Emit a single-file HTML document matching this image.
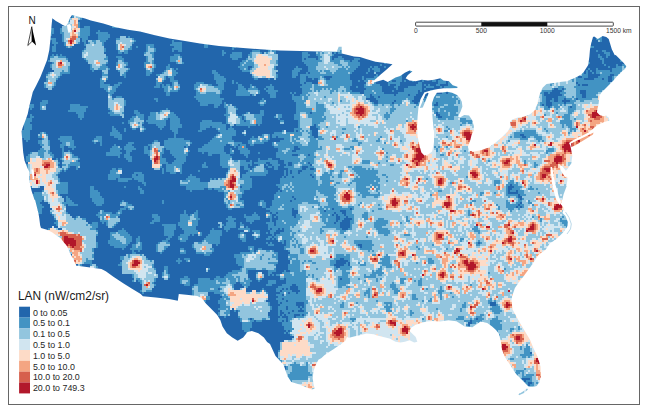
<!DOCTYPE html>
<html><head><meta charset="utf-8"><style>
html,body{margin:0;padding:0;background:#fff;}
svg{display:block;}
text{font-family:"Liberation Sans",Arial,sans-serif;fill:#222;}
.lg{font-size:8.9px;fill:#262626;}
.tt{font-size:11.9px;fill:#1a1a1a;}
.sb{font-size:6.7px;fill:#333;}
</style></head><body>
<svg width="647" height="413" viewBox="0 0 647 413">
<rect x="0" y="0" width="647" height="413" fill="#fff"/>
<defs><filter id="bl" x="0" y="0" width="1" height="1"><feGaussianBlur stdDeviation="0.4"/></filter><clipPath id="us"><polygon points="52.3,18.3 55.9,20.9 59.5,23.1 63.1,25.2 66.0,26.0 68.0,23.0 70.0,18.0 72.0,15.1 77.7,16.5 85.0,18.5 90.9,20.5 103.3,23.5 115.6,27.2 128.0,29.7 140.0,31.6 155.0,35.2 169.5,38.5 185.0,41.0 200.0,43.5 219.0,46.0 240.0,47.8 260.0,49.3 280.0,50.4 300.0,51.0 320.0,51.5 336.7,51.8 338.7,46.8 341.7,46.8 341.7,53.5 348.0,55.0 354.0,56.5 360.0,57.1 366.2,58.9 375.5,61.7 383.2,62.8 392.5,64.3 386.3,69.7 380.1,75.1 373.9,80.5 370.0,83.6 375.5,82.1 383.2,79.8 387.8,82.1 395.5,77.5 400.2,75.9 404.8,72.8 409.5,70.5 412.5,71.3 407.9,75.1 405.6,78.2 409.5,80.5 415.6,81.3 421.8,79.8 428.0,80.5 434.2,79.8 440.4,78.2 443.5,80.5 448.9,81.3 452.7,85.2 457.4,86.7 457.4,88.0 450.0,88.2 443.7,88.2 438.0,89.0 434.0,89.8 429.0,91.0 424.3,92.5 420.5,99.3 418.5,107.0 417.6,116.7 417.0,126.4 417.6,136.0 419.5,145.7 421.4,152.5 424.3,155.4 428.2,154.4 432.1,151.5 434.0,141.8 434.0,132.2 433.0,122.5 432.1,112.8 432.1,103.1 434.0,97.3 436.9,92.8 442.4,92.4 447.3,91.8 452.1,92.7 457.0,95.1 460.0,98.2 461.8,101.8 462.4,106.6 460.6,111.5 458.8,115.1 458.2,117.0 460.0,117.5 464.2,115.1 469.0,115.6 472.1,120.0 473.9,126.0 473.8,130.5 471.6,134.8 470.2,140.6 468.0,146.4 468.7,150.8 474.5,151.5 481.8,150.1 489.0,147.2 496.3,142.1 502.1,137.0 507.9,131.2 510.8,126.1 510.1,121.8 512.2,119.6 518.0,117.4 523.9,116.7 529.7,114.5 534.5,110.5 537.0,105.0 538.5,99.0 540.0,93.6 542.6,87.8 546.5,83.9 554.5,83.0 560.0,82.0 566.8,81.2 575.3,77.8 581.2,74.4 583.7,71.9 588.2,65.0 589.4,56.5 590.0,49.2 591.2,43.2 593.0,37.1 594.2,36.5 597.8,38.9 602.7,35.9 606.3,37.1 608.7,38.9 610.0,43.2 611.8,49.2 614.8,55.3 615.7,55.0 619.7,59.0 623.7,63.0 626.3,66.3 625.0,69.0 622.3,71.0 619.7,73.7 617.0,76.3 613.7,80.3 611.0,83.0 607.7,86.3 605.0,89.0 601.7,92.3 599.7,95.0 599.0,100.3 598.3,105.7 597.6,108.0 596.9,112.3 599.6,115.0 603.6,116.3 606.2,115.6 608.9,118.3 609.5,120.3 607.6,120.9 603.6,122.3 600.9,123.6 596.9,125.6 593.6,128.2 588.9,132.2 583.6,134.9 578.3,137.6 573.0,140.2 569.0,142.9 570.4,145.8 572.3,155.5 571.4,163.3 567.5,169.0 565.5,171.0 562.5,168.5 561.0,170.5 566.5,174.0 567.5,178.8 566.5,186.5 563.6,194.3 561.7,202.0 560.5,204.0 562.8,206.5 565.0,212.0 567.1,217.4 569.3,224.0 562.8,232.7 556.3,239.2 549.7,243.6 545.4,250.0 538.8,254.5 534.5,261.0 530.0,267.5 523.6,276.3 518.7,282.6 514.9,288.0 512.4,295.2 511.5,300.0 512.7,309.7 518.3,320.0 524.0,329.7 529.9,339.4 533.8,349.0 537.6,356.8 540.5,366.5 540.9,376.2 539.6,382.0 536.7,385.9 532.8,386.9 528.9,386.9 526.0,384.0 522.1,380.0 516.3,374.3 512.4,368.4 508.6,362.6 504.7,356.8 501.8,349.0 500.8,341.3 499.0,334.0 496.0,330.0 492.1,326.6 487.3,323.0 480.5,321.5 472.4,327.2 464.4,326.2 456.4,321.2 448.4,320.2 440.0,321.6 432.7,320.9 426.6,321.6 420.4,323.2 415.7,324.7 411.1,327.8 409.6,330.9 412.6,334.0 415.7,337.1 417.3,341.7 414.2,342.5 409.6,340.2 404.9,341.7 400.3,342.5 395.6,341.7 389.5,338.6 383.3,337.1 377.1,335.5 373.8,334.2 366.5,333.4 360.7,334.9 354.9,336.3 349.1,337.8 346.9,337.1 345.4,340.7 341.8,343.6 337.4,346.5 333.1,349.4 328.7,352.3 324.4,355.2 321.5,358.1 318.4,359.7 315.5,365.5 313.5,371.3 312.6,378.0 313.5,383.8 314.5,388.7 311.6,389.6 304.8,386.7 297.1,383.8 291.3,381.9 287.4,376.1 285.5,370.3 283.5,364.5 279.7,360.6 275.5,356.0 272.5,349.5 270.0,344.0 267.1,341.9 263.9,337.5 258.4,333.2 251.9,331.0 247.5,332.1 243.2,337.5 237.7,340.8 232.3,337.5 226.8,333.2 222.5,326.6 220.3,320.1 217.0,314.7 211.6,309.2 206.1,303.8 201.8,298.3 197.4,296.1 188.7,295.0 178.8,294.1 177.8,300.7 169.0,298.9 155.9,297.4 142.9,296.3 140.7,294.1 132.0,288.7 123.2,283.2 113.4,276.7 105.8,271.2 101.4,269.1 77.4,265.8 76.6,266.1 74.9,262.7 72.4,257.6 69.8,252.5 67.3,246.6 63.9,242.4 60.5,238.1 55.4,234.7 52.0,232.2 47.0,229.7 41.0,228.0 40.2,225.4 39.3,218.6 38.5,213.6 36.8,206.8 35.1,200.0 34.5,199.8 31.6,191.0 30.3,185.6 29.4,179.8 29.4,172.0 27.4,168.1 24.5,160.4 23.2,152.6 22.6,144.9 22.0,137.1 21.6,131.3 22.6,127.7 25.2,120.9 27.7,114.1 29.4,105.7 31.1,98.9 32.8,92.1 36.2,85.4 40.4,76.9 43.8,68.5 47.1,60.0 49.3,50.0 50.7,36.7 51.5,26.0"/><polygon points="571.0,143.5 578.0,140.0 585.0,136.8 591.6,133.5 593.5,132.5 593.0,134.5 589.0,137.0 582.5,141.0 576.0,145.0 571.5,147.0"/><polygon points="527.0,388.5 523.0,391.5 518.5,394.2 519.0,395.3 524.0,393.0 528.0,389.5"/><polygon points="419.8,108.0 425.5,94.0 427.8,92.8 428.6,93.6 422.8,107.6"/></clipPath></defs>
<g clip-path="url(#us)"><g filter="url(#bl)">
<rect x="0" y="0" width="647" height="413" fill="#2166ac"/>
<path fill="#4393c3" transform="scale(0.25)" d="M208 160v16h8v8h-8v24h16v-32h8v-8h-8v-16h-24v-8h8v-8h8v-24h-14l-4 48zM200 224v16h-8v8h16v8h-8v16h8v8h8v8h-24v8h-8v32h-8v24h16v8h16v-8h8v-8h8v-24h8v-8h8v-8h8v-8h32v-48h-8v-16h-8v-8h-16v-8h-8v8h-8v-8h-8v8h-8v-8h-8v8zM184 440v-24h8v-16h-24v8h-8v32zM136 432v-16h-16v8h-6l-2 8h8v8h8v-8zM96 496v24h-8v32h8v8h8v8h8v-8h8v-40h8v-24h-8v-8h8v-16h8v-8h-8v-8h-8v16h-18l-9 24zM152 560v16h8v8h8v8h-8v8h-8v8h-32v8h-8v8h-8v24h8v8h-8v8h-1l11 25v30l6 33h40v-8h16v16h-8v8h-32v8h-8l4 16h4v10h2l9 38h5v16h16v-24h8v-8h-8v-8h-8v-8h8v-8h8v8h16v8h8v16h8v8h-8v16h8v8h8v16h8v8h-8v8h8v8h8v8h-16v-8h-8v8h-16v8h-8v1l22 11l34 23l26 33l13 28h9v16h-1l16 32h1v-8h8v8h16v-8h32v16h8v2l8 2v-4h16v-8h-8v-8h-16v-16h8v-48h16v-24h-8v-24h8v-24h-8v-8h8v-24h-24v8h-16v-8h-8v-16h-24v-8h-16v8h-16v-8h-8v-8h-8v-8h-8v-32h8v8h40v-8h-16v-8h-8v-8h-8v-8h-8v-8h-8v24h-8v-16h-8v-8h-8v-8h32v-48h-32v-16h-8v-16h8v-8h8v-8h8v8h8v-8h8v-8h8v-8h24v16h8v-8h8v-24h-8v-8h8v-8h-8v-8h-16v-8h-8v-8h-8v-8h-8v8h-16v-24h16v8h16v8h8v-8h8v-8h-8v-24h-8v-16h-48v8h-8v8h8v8h8v8h-8v16h8v40h-8v8h8v32h-8v-8h-8v-8h8v-8h-8v-16h-8v8h-16v-8h8v-16h-8v-8h-8v-48h-8v-24h-8v-8h-24v8h-8v16h16v8zM248 912v8h-16v-8zM256 104h-8v8h-8v24h8v32h8v16h8v8h24v-8h8v-8h24v-24h8v16h8v16h8v8h-8v8h-8v32h8v8h8v8h8v8h8v24h8v8h8v-8h32v32h-8v40h16v8h8v8h8v72h8v8h-8v8h8v8h48v8h8v-48h8v-24h-8v-8h-8v-8h-24v8h-16v-16h8v-8h8v-16h8v-8h8v-8h8v-8h-16v8h-16v8h-16v-8h-24v-8h8v-8h8v-40h8v-8h-8v-8h-8v-8h8v-32h-8v-8h-8v-8h8v-16h-8v-24h8v-8h8v-8h8v-16h-8v-8h-32v-8h-8v8h-8v8h8v24h-40v-16h8v-40h-24v8h-16v-24h-8v-8h16v-8h8v-2l-48-13v15h-11l-8 19l-6 9l-7-2zM352 160v16h-8v-16zM312 472h8v8h8v-8h8v-24h8v-16h8v-8h-32v-8h-40v24h-8v8h32v8h8zM360 792h8v16h8v8h8v8h24v-8h8v-24h-8v-8h-8v-16h-8v-8h-16v-16h-16zM472 112v-5l-32-8v5h8v8zM424 96h7l-7-2zM512 216v-16h16v-24h8v-8h8v-8h-8v-8h-16v-8h-8v8h-8v-8h-24v8h-16v48h8v16h16v-8h8v8zM464 232h8v16h-8v32h8v8h8v16h16v8h8v-24h8v-8h8v-8h-16v-8h8v-16h-16v-16h-8v-8h-24zM472 560h16v-24h-8v-8h-8v-8h-8v-8h-8v-8h-8v24h-8v16h16v8h16zM400 568v16h8v-40h-24v8h-8v8h-8v8h8v8h8v-8zM424 608v16h48v8h8v-16h8v-8h-8v-8h8v-8h-8v-8h-16v-8h-8v8h-8v8h-8v16zM432 720h32v-8h8v16h40v-8h16v-8h-48v-16h8v-24h-16v8h-8v-8h-16v8h-8v16h-8zM400 872v16h8v8h8v-8h8v16h8v8h24v-8h8v-8h8v-8h8v-16h-8v-8h8v-8h8v-16h16v-8h8v8h24v-16h-8v-8h-16v-8h-16v-8h-8v8h-8v16h16v8h-16v8h-8v8h-8v8h-16v-8h-32v-8h-16v8h-8v8h-8v8h8v8zM432 976h8v8h16v8h32v8h8v-8h8v-8h8v-8h8v-8h8v-24h-8v-8h-8v-8h-8v-8h-8v-8h-8v8h-16v8h-32v32h-8zM424 1088h-2l2 1zM584 224v24h-8v24h8v32h16v-8h8v-8h8v-16h8v-16h-8v-48h8v-16h-8v-16h-32v32h-8v16zM552 184h-8v8h8zM520 472v8h-8v16h8v16h8v8h16v-8h16v16h16v-8h8v-8h-8v-8h-8v-8h8v-40h-16v-8h-8v-8h-16v16h8v8h-16v8zM496 488h-8v8h8zM504 512h-8v16h8zM504 600v16h-8v16h8v8h8v8h16v-24h-8v-16h8v-8h16v-8h-8v-8h-8v-8h8v-8h-24v8h-8v8h-8v16zM576 584v32h16v8h8v16h8v32h8v8h24v-8h8v-16h16v32h16v8h24v-8h16v8h8v-40h8v-8h8v-24h8v-16h8v-8h-8v-16h8v-8h8v-8h-8v-8h-24v-8h-32v-16h8v-24h16v-16h-8v-24h-8v-8h-8v-8h-8v-8h-16v-8h-8v-8h-8v8h-24v8h-40v16h-8v16h-8v8h8v8h32v8h8v8h8v8h8v-8h8v-8h8v-24h8v-8h8v48h8v8h8v24h-24v8h-16v24h-16v-16h-8v-8h-16v8h-8v8h-16v8zM600 584v16h-8v-16zM688 656h-16v-8h-8v-16h-16v-16h8v-24h8v8h16v16h8v8h8v8h8v8h-8v8h-8zM744 592h-8v-8h8zM528 696v16h8v8h16v8h16v8h8v8h8v-16h-8v-32h-8v-8h-32v8zM544 704v-8h8v8zM504 744h-8v8h8zM576 760h-8v-8h-8v-8h-8v16h8v16h16zM640 864h-8v-8h-24v16h8v8h-8v8h-8v8h16v-8h24zM528 976v16h-8v8h8v16h-24v8h-24v16h8v8h-8v8h-8v8h16v32h40v16h8v8h-8v8h16v-8h8v8h8v8h8v24h-8v8h8v8h8v-8h32v-16h8v-8h8v-8h-8v-8h8v-16h8v-16h-8v-24h-8v-32h-24v-8h-8v-8h-8v-8h-32v-8h-8v-8h16v8h8v-8h8v-32h-8v-24h-8v8h-8v24zM696 208v-8h16v8h16v-40h-32v-8h-8v16h-8v8h16v8h-8v16zM728 248v-24h-8v-8h-24v8h-16v24h24v8h32v-8zM632 304v8h-8v32h-8v8h24v-16h8v16h8v16h8v16h16v-16h32v-8h8v-24h-8v-16h-16v-16h8v-8h8v-8h-8v-8h-8v-8h-16v-16h-8v8h-8v16h-8v8h-8v8h-24v8zM648 328h8v-8h8v-16h8v8h8v16h8v16h-8v-8h-16v8h-8v-8h-8zM712 272h-8v8h8zM624 408h8v-16h-16v8h8zM648 672v24h8v-24zM648 800v16h8v-16zM664 952v8h-16v8h-16v8h-8v32h16v8h8v-8h8v-8h8v-8h8v-8h8v-16h-8v-8h8v-8h8v-8h8v-24h8v-24h-56v8h8v40h16v8zM720 1040v-8h-8v8h-8v8h8v8h8v-8h8v-8zM672 1120v-8h8v-16h-8v-32h-16v24h-8v24h8v8zM832 192v-16h-16v16zM864 336h8v8h-24v-8h-32v-8h-32v8h-8v24h8v24h-8v8h8v8h8v8h8v16h32v-8h24v16h16v-8h8v-8h8v-16h8v-8h-16v-16h8v-16h8v-32h8v-16h-8v-8h-16v-8h-8v-8h-8v-8h-16v16h8v24h8zM808 520h16v-8h16v-8h8v8h16v8h8v8h8v8h-16v8h-8v8h-8v8h-8v8h-8v8h-16v8h-8v8h-16v16h16v8h8v-8h16v16h16v-8h32v48h8v8h24v16h-8v24h-32v8h-8v-8h-8v8h-8v-8h-8v16h-40v-16h-16v-8h-16v-8h-8v8h-8v8h-8v8h-24v24h24v16h16v8h8v-8h48v-8h16v8h16v-8h8v8h16v8h24v48h8v16h8v8h16v-8h48v-32h-16v-8h8v-16h8v-16h24v-8h8v-40h-8v-8h64v-8h8v-16h-8v-8h-8v-16h8v-8h16v8h8v8h8v16h16v-16h8v-8h-8v-16h-24v-8h-16v8h-32v-8h-8v16h-16v8h16v8h-16v8h-8v8h-8v-8h-8v-16h8v8h8v-24h-8v8h-16v-8h-56v-16h-8v-8h-16v-8h-8v-24h8v-8h16v8h16v8h8v-8h8v16h8v16h16v8h8v8h8v-16h8v-16h-8v-8h-8v-16h-16v-8h-32v-8h-8v-16h16v-24h-8v-8h-8v-8h8v-8h8v8h48v8h8v-8h24v-8h8v8h8v-8h8v-32h8v-24h-16v16h-40v-8h-16v8h-16v8h-16v-8h-8v-16h8v-8h-8v-8h-16v-8h-24v-8h-8v24h8v24h-8v8h8v32h-16v-8h-40v-8h-40v8h-8v32h-8v8h16zM952 576h8v8h-8zM976 464v16h-8v-16zM984 480v8h-8v-8zM920 496v16h-8v8h-8v-24zM960 712v-48h16v16h16v8h-8v8h-16v16zM960 744h8v8h-8zM824 664v-16h-8v8h-8v16h24v-8zM800 680h-8v8h8zM712 888v16h8v8h8v8h8v16h-16v8h-8v16h8v8h24v-8h8v-16h8v-8h8v8h8v-8h16v8h16v-16h-16v-8h-8v-16h8v-24h8v-8h-8v-32h-8v8h-8v8h-16v8h-8v-8h-8v-16h-8v16h-16v32zM888 896v-8h-16v8h8v8h-8v8h16v-8h8v-8zM824 952h-8v8h-8v8h-32v8h-8v16h8v8h8v16h32v8h24v-8h8v-8h8v-16h-8v-16h16v8h8v-8h8v-32h8v-24h-32v-8h-8v8h-8v16h-8v8h-8zM736 1000v-8h-16v24h24v-16zM736 1032v8h8v8h16v-16zM824 1088h8v-8h8v-8h-16zM856 1120h-16v-8h-48v24h-16v8h-8v41l21 3l16 8l10 12h9v-8h16v-16h-8v-16h24v8h24v8h8v8h-8v8h-8v16h8v16h-8v8h8v8h-8v16h24v8h8v-8h16v-24h8v-8h8v16h8v-8h8v32h8v16h8v32h8v8h8v8h4l4-5v-3h8v-16h8v-24h8v-8h8v8h24v-8h32v-16h-8v-16h8v-8h8v-16h-8v-16h-16v-8h8v-32h-8v-8h-8v-8h-8v8h-8v8h-16v-8h-16v8h-24v-16h8v-8h8v-16h8v-8h-8v-8h-8v-32h80v24h8v-8h8v-8h16v-32h8v-48h-16v-8h-48v-8h-16v8h-8v8h-8v-24h-24v16h8v8h-40v8h-24v16h8v24h8v8h16v8h-8v8h-32v8h-16v8h-8v8h-8v8h-16v-8h-16v8h-8zM944 1136v-8h16v8h8v8h8v8h-16v8h-24v-24zM872 1160v-8h8v8zM1000 1272h8v8h-8zM760 1144v-32h-8v-8h-16v8h-16v24h16v8zM928 185v15h8v-8h8v-5zM896 208v-8h-8v24h8v-8h8v-8zM968 232v-24h-40v8h-8v16h8v8h24v-8zM960 280h8v8h32v8h8v16h8v8h16v-8h40v8h8v-8h16v8h8v-8h8v-16h-8v-8h8v-8h-8v-16h8v-48h-8v-16h8v-2l-48-3v5h8v8h-16v8h-8v-8h-8v-8h-32v8h-8v8h-8v16h-8v8h-16v8h-8v16h-8v8h8zM992 264h16v8h-8v8h-8zM936 336v-16h-8v16zM952 336v-8h-8v8zM944 360v24h56v-8h8v8h16v-8h16v-16h-8v-8h-8v-8h-16v-8h-8v16h-8v8h-8v-8h-8v-8h-8v-8h-16v24zM984 544v-24h-8v8h-8v8h8v8zM928 592h-8v24h16v-16h-8zM976 856v16h8v16h16v8h8v-8h8v-8h24v-16h-8v-8h-8v-8h-8v8h-8v8h-24v-8zM904 904h-8v16h8v8h8v-8h8v-8h24v-24h-8v-8h8v-8h-16v-8h-16v8h-8v8h8v8h-8zM976 928h24v-16h-8v-8h-8v8h-8v-16h-8v-8h-8v24h-8v8h24zM984 968v-32h-8v-8h-16v8h-8v16h8v8h8v8zM1072 368v8h8v16h24v-24h8v-8h-16v-16h-8v-8h-8v8h-16v8h8v8h-8v8zM1064 360v-8h-8v8zM1064 416v-16h-8v-8h-8v8h-8v8h-8v8h8v8h16v-8zM992 560v16h8v8h16v-8h40v-8h16v-8h8v-24h-32v8h-16v8h-16v-8h-8v8h-8v8zM1040 608h-8v8h8zM1072 656h-8v8h8zM1088 664h-16v8h16zM1064 808h-8v-8h-16v8h-8v16h16v8h16zM1064 896h8v24h8v16h8v8h8v8h8v8h8v8h16v8h8v-16h8v24h-8v16h16v8h8v8h-8v24h8v16h-8v24h8v8h-16v-8h-8v8h-8v8h-24v8h16v16h16v-8h8v24h-16v8h-16v8h-8v16h16v8h-16v8h8v8h-8v8h8v16h8v8h-8v40h8v8h-8v16h16v16h8v16h8v8h8v8h8v8h16v8h-8v8h-32v8h-16v32h-8v40h8v8h8v8l3 4l2 4h11v16h-6l9 26l17 24l54 20l27 11l15-4l1-3l-7-42l3-26l8-23l11-22l12-6l12-12l69-46l15-12l5-13l8 2l69-17l28 3l14 5l49 12l25 13l19 3l19-3l18-6l19 9l14-3l1-2v-2l-7-19l-23-24l5-10l17-11l43-12l24-3l29 3l34-6l31 4l32 20l32 4l34-23l25 6l34 27l11 15l7 29l4 31l12 31l47 71l51 51l17 1l17-5l13-17l6-24l-2-40l-12-39l-15-31l-16-39l-46-78l-22-40l-5-38l4-18l9-29l61-81l35-52l26-18l17-25l26-18l26-26l27-36v-2l-9-26l-17-44l-8-9l4-7l7-31l12-31l4-32l-4-21l-20-13l2-2l9 8h4l8-9l17-24l3-32l-6-31l20-8l68-42l1-2l2-10l-2-2h-2l-90 44l-2 3l-1-1l14-9l63-33l32-26l27-13l24-9l1-2l-3-9l-11-12l-3-1l-10 3l-14-5l-9-9l5-25l6-42l7-10l48-48l13-16l21-21l11-8l6-12v-2h-4v-5l-2-3h-14v8h-16v-8h-8v16h-16v16h-8v-8h-48v-8h-8v24h16v8h-8v8h-16v8h-40v-8h16v-32h-8v16h-8v-16l-4 6l-9 9l-23 13l-34 14l-82 11l-17 17l-10 23l-12 46l-10 21l-18 15l-22 9l-24 2l-24 10l-10 10l3 18l-11 19l-23 23l-23 20l-29 20l-28 11l-28 6l-20-3l-3-14l9-22l5-24l9-17l1-20l-8-24l-13-19l-22-3l-16 10l-3-1l8-19l8-20l-3-21l-7-15l-14-13l-19-10h-10v-2l-10-2l-6 1v3h-16v8h-27l-8 12l-8 24v39l8 78v38l-8 37l-14 11l-13 3l-10-10l-7-26l-7-38l-3-38l3-39l3-33l3 1l12-1l2-2l23-56h-5v8h-8v8h-8v8h-7l-12 28l8-28h-5v8h-8v8h-16v-8h-8v-8h8v-16h8v-8h8v-16h8v8h8v-40h-16v8h-8v8h-32v8h-16v16h-24v8h-8v8h-8v-8h-40v-8h-8v-24h-8v-8h-16v-8l-10-1l2-1v-6h7l1-1v-7h8v-16h-8v8h-8v8h-32v8h-8v8h8v8h-8v16h8v8h-8v16h-16v-8h-32v-8h-8v-16h8v-24h-8v-24h8v-8h8v-8h8v-8h8v-8h8v-16h-8v-8h8v-8h-24v8h-8v8h-8v-8h-24v-8h-8v-8h-16v8h-16v8h-8v-16h8v-8h8v-8h8v8h16v-16h2v-13l-1-2l-2-1l-14 1l-8 19l-57-1v5h-16v-5l-8-1v22h8v16h-8v-8h-32v-8h8v-8h-8v-8h-24v40h8v8h8v8h8v24h-8v8h-24v40h8v8h-8v8h8v24h-8v8h-24v-8h-8v24h8v8h8v48h-8v24h16v32h-16v16h-32v-8h-16v8h-32v8h-8v16h16v-8h8v8h24v8h-16v8h-32v16h8v8h16v16h-8v24h16v8h16v16h8v8h-8v8h16v32h-8v8h-8v-8h-8v8h-8v24h-16v8h8v8h8v8h-8v8h-8v8h-8v24h-8v24h-8v8h-16v8h16v8h-16v24h16v16h-16zM1080 912h8v8h-8zM1096 944v-16h8v-8h8v-8h8v8h8v-8h8v16h-16v8h-16v8zM1120 1160h8v8h-8zM1128 1152h8v8h-8zM1120 1208h8v8h-8zM1120 1264v-24h8v8h8v8h8v8h8v24h-8v-16h-16v-8zM1128 1280h8v8h-8zM1152 1320h8v8h-8zM1792 368v8h-8v-8zM1328 216v-8h8v8zM1240 288v8h-8v-8zM1128 760v8h-8v-8zM1088 848v8h-8v-8zM1104 856v8h8v16h-8v24h-8v-16h-8v-32zM1104 848h8v8h-8zM1360 912v-24h8v-8h8v-8h8v-8h8v8h16v8h-8v32h-8v8h-24v-8zM1376 864v-8h-8v-8h-8v-8h24v24zM1408 840h-8v-8h8zM1328 832h8v8h-8zM1192 840v16h-8v16h-8v-8h-8v-32h8v8zM1296 848v-8h8v8zM1336 848h8v8h-8zM1352 856v8h8v16h-8v8h-8v-32zM1344 896h-8v-8h8zM1336 864h-8v-8h8zM1744 408h8v16h-16v-8h8zM1576 408v8h-8v-8zM1576 400h8v8h-8zM1480 408v-8h-16v-8h16v-16h8v8h8v8h8v8h8v16h-16v-8zM1216 240v-8h8v8zM1216 336v-8h8v8zM1224 328v-24h8v8h16v8h8v-8h16v24h-24v-8zM1296 312v-8h32v8h-8v8h-16v-8zM1744 464v-16h8v8h8v8h8v8h-16v-8zM1240 448h8v8h-8zM1248 544v-24h-8v-16h16v-8h8v16h8v40h-16v-8zM1192 528h-8v-8h8zM1192 592h8v8h-16v8h-16v-8h8v-16h16zM1192 624h-24v-8h24zM1176 712h-8v-8h8zM1256 712h-8v-8h8zM1240 704v-8h8v8zM1192 680h16v8h-8v8h-8zM1208 680v-16h24v8h-8v8zM1248 664h-8v-8h8zM1232 656v-8h8v8zM1152 664v-16h16v16zM1160 680h8v16h-8zM1168 808h-8v-8h8zM1184 800h-8v-8h8zM1168 792v-8h8v8zM1136 1184h-8v-8h8zM1160 1176h-8v-8h8zM1168 1160h-8v-16h8v-8h16v8h8v16h8v8h-8v8h-8v-8h-16zM1144 1152h8v8h-8zM1184 1208h32v24h-8v8h8v8h-24v-8h8v-8h-8v-8h-8zM1152 1200v8h-8v-8zM1136 1192v8h-8v-8zM1200 1256v8h-16v8h-8v-16zM1160 1248v8h-8v-8zM1176 1248h-8v-8h8zM1144 1240v-16h8v16zM1216 1264h-8v-8h8zM1240 624h-8v-8h8zM1256 680h-16v-8h16zM1448 976v16h-8v-8h-8v-8zM1336 1056h8v-16h16v-8h16v8h16v8h-8v8h-8v8h-16v8h-16v-8h-8zM1400 1048v16h-8v-16zM1368 1120h-8v-8h8zM1880 1288v-8h8v16h-8v8h-8v-16zM1632 384v-8h8v8zM1512 392v-8h8v8zM2184 424v-40h-8v-16h16v8h8v-8h8v-8h8v-8h16v8h16v8h-8v8h8v8h-16v24h-16v-16h-8v8h-8v8h8v16h-8v8h-8v-8zM2248 352h8v8h-8zM2176 424h-8v-8h8zM2288 432h-8v-8h8zM2080 536h16v8h8v8h-16v-8h-8zM2064 832v-8h8v8zM2072 816h8v8h-8zM2080 808h8v8h-8zM2088 824v8h-8v-8zM2072 792v-16h8v8h8v16h-8v-8zM2032 776v-32h8v-8h8v8h8v8h-8v8h-8v8h24v-8h8v16zM1912 968h8v8h-8zM1984 1208v16h-24v-16zM1904 1272h8v8h-8zM2120 1408h8v8h-8zM2128 1536h-8v8h-8v-16h16zM2088 1512h32v8h-16v8h-8v-8h-8zM2328 344v-8h24v8zM2312 344v-8h8v8zM2304 336v-8h8v8zM2440 296h16v8h-8v24h-16v-24h8zM2408 320v-8h8v8zM2312 312v-8h16v8zM2256 392h8v8h16v8h-16v8h-8v-8h-8v-8h8zM2304 392h8v8h-8zM2344 360v32h-16v-16h-8v-16zM2344 272v-4l-3 4zM2360 256v-8h-8v-5l-2 13zM2376 192v-8h-16v-4l-2 12zM1568 256h5l-2-2h-3zM1824 352h8v-7l-19-7l-13-13v3h-8v16h-16v8h8v4l40-1zM1016 944v16h8v-8h16v-32h-32v8h8v8h-8v8zM1072 928h-8v8h8zM1064 960h16v-8h8v-8h-16v8h-8zM1072 968h-8v8h8zM1072 984h24v-8h-8v-8h-8v8h-8zM1040 1120h8v-8h8v-16h-8v-8h-24v32h8v8h8zM1104 1120h-32v16h-8v8h24v-8h16zM1184 304h8v-16h8v-8h8v-8h-16v-8h-8v8h-8v8h-8v32h16zM1168 368h-8v8h8zM1184 368h-8v8h8zM1128 456h-24v8h-8v8h16v8h8v-8h8zM1136 496v-16h-16v16zM1144 680h-8v24h8zM1104 872v-8h-8v8zM1096 952h-8v8h8zM1096 1096h-8v8h8zM1208 1224h-8v8h8zM1136 1256h-8v8h8zM1144 1328h-8v8h8zM1488 264h-8v8h8zM1472 272v16h8v-16zM1512 272v-8h-16v8h-8v8h8v16h8v-8h16v-16zM1472 288h-8v8h8zM1448 320h8v-16h-8zM1440 320h-8v8h8zM1432 344h-8v8h8zM1544 250l-8-2v8h8zM1528 256h-8v8h8zM1640 280v8h12l1-1v-3l-2-2zM1544 264h-8v8h8zM1552 272v5l6-5zM1560 320v8h-8v16h8v-8h24v8h-8v8h8v8h8v-16h8v-16h8v-32l-16 8l-11 3zM1568 328v-8h16v8zM1536 288v3l4-3zM1528 298l2-2h-2zM1520 304v1l1-1zM1696 320h-8v8h8zM1624 320h-8v8h8zM1656 321l-8-1v8h8zM1704 336h-8v8h8zM1704 352h-8v8h8zM1576 360h-8v8h8zM1704 371l-4 3l-1 2h5zM1704 368h-8v8h2l1-3l5-2zM1760 344v-8h24v-16l-9-1l-9-7h-6v8h-8v16h-8v8zM1744 320h-16v8h16zM1704 352h32v-8h-16v-8h-8v8h-8zM1768 344h-8v8h8zM1768 367h-8v1h8zM1728 360h-8v6l8-2zM2368 168v-16l-5 16zM2392 160v8h16v-24h-4l-13 8l-7-5v13zM2432 232v-8h8v-16h-16v-8h-16v8h8v8h8v16zM2392 200h-8v8h8zM2416 256v-24h-8v-8h-8v-8h-8v16h8v8h8v16zM2488 241l-8-1v8h8zM2424 256h-8v8h8zM2440 264h-8v8h8zM2360 272h-8v8h8zM2368 288v-8h-8v8zM2376 288h-8v8h8zM2072 1574l-1 3l2 6l2 1h2l21-9l16-15l1-3l-5-6h-3l-17 12z"/>
<path fill="#92c5de" transform="scale(0.25)" d="M248 104v24h8v40h8v16h8v8h8v-8h16v-8h16v-8h8v-16h-8v-8h8v-32h-8v-32h8v-8h8v-5l-32-8v13h-16v16h-10l-7 12l-7-2v6zM344 200h-8v8h-8v24h16v8h8v16h16v16h8v8h16v-8h8v-8h8v-8h16v-8h8v-8h-16v-8h8v-16h-8v-32h-8v-16h-8v-8h-16v16h-8v-8h-8v-8h-16v8h8v8h-16zM208 280h8v8h-16v8h-8v8h-8v8h8v16h-16v8h8v16h8v8h16v-16h8v-16h8v-16h8v-8h8v-16h8v-8h8v8h16v-24h8v-16h-8v-8h-8v-8h-32v-8h-16v8h-16v16h16v8h-8zM184 440v-16h-16v16zM176 584h-8v8h8v8h8v8h-8v24h-16v-8h-8v-16h-24v8h-8v32h-8v36l2 5v15h6v16h-6l2 8h4v16h8v8h32v-8h16v24h-8v16h8v24h16v8h8v16h8v8h-8v8h8v8h8v16h8v8h8v32h-16v-8h-8v8h-8v8h-8v4l14 8l34 23l26 33l9 20h5v8h8v18l15 30h1v-8h8v8h8v-8h16v-8h8v-16h8v8h24v-8h-8v-16h8v-8h-8v-16h16v-56h8v-8h-8v-8h-24v-8h8v-8h-8v-8h-8v-8h-8v-8h-16v-8h-8v-8h-8v8h-8v8h-8v-8h-8v-8h-8v-8h-16v-32h-8v-8h-8v-8h8v-16h-8v-8h-16v-24h-8v-24h16v-8h-8v-24h-8v-8h8v-8h8v-8h8v-8h-16v-32h-24v-16h-8v-8h-8v-16h8v-16h-8v-40h-8v-8h-8v-8h-8v24h8v8h-8v16h8zM248 912v8h-16v-8zM352 904h-8v-8h8zM160 536h-8v8h8zM280 568h-16v16h16zM256 648h-8v8h16v8h-16v8h8v8h8v-8h8v-16h8v-8h24v-8h8v-8h-24v-16h-8v-8h-24v24h-8v8h8zM320 664h-8v8h8zM368 1056v8h-8v8h8v2l8 2v-4h8v-16zM480 200v8h16v-8h16v-8h8v-8h8v-16h8v-8h-8v-8h-24v-8h-24v16h-16v16h8v24zM584 216h-8v8h16v24h8v8h-16v24h16v8h8v-16h8v-16h-8v-16h8v-8h-8v-16h-8v-8h16v-16h-16v-8h-8v24h-8zM480 280v24h8v-8h8v-8h8v-8h8v-8h-16v-8h8v-8h-8v-8h-8v-8h-16v24h-8v16zM432 296v-24h-8v8h-16v8h8v8zM424 312h8v-8h-24v16h8v8h8zM432 344v24h8v-8h8v-16zM432 376v56h8v8h8v8h8v8h24v8h8v8h8v-16h-8v-8h8v-56h-40v8h-8v-16h-8v-8zM528 504v8h24v-8h8v24h8v-8h8v-8h-8v-24h8v-8h-16v-8h-8v-8h-8v8h-8v16h-16v16zM552 496v-8h8v8zM392 560h-16v8h16zM480 584h-8v8h8zM608 640v32h8v8h24v-16h8v-8h-8v-48h8v-16h8v-8h-16v-16h-24v8h-8v24h-8v40zM632 608v-8h8v8zM464 696h24v-16h-16v8h-8zM480 824h24v-16h-16v8h-8zM512 832h8v8h8v-8h8v-8h-24zM400 856h8v-16h-8zM480 848h-8v8h8zM448 904h8v-8h8v-8h16v-16h-8v-8h-8v8h-24v-16h-16v8h-8v16h16v32h16zM408 864h-8v16h8zM464 960h16v8h8v8h16v-24h-8v-8h-16v-8h-8v-8h-8v8h-16v8h8v8h8zM552 976h-8v16h8v-8h8v-16h-8zM512 1032v-16h-8v8h-8v16h-8v56h48v32h8v-16h16v8h8v48h16v-8h24v-8h8v-16h-8v-8h8v-16h16v-16h-8v-16h-8v-8h-8v-16h8v-16h-8v8h-8v-8h-16v-16h-8v-8h-8v8h-8v-8h-40v16zM728 256v-24h-8v-8h-8v16h-8v8h8v8zM640 304h-8v8h-8v8h8v8h16v-8h8v-16h32v-32h-8v8h-16v8h-8v8h-16zM696 360h16v-8h8v-8h-8v-16h-16zM824 368h40v8h16v-16h-8v-8h-16v-8h-24v-8h-32v8h-8v8h-8v8h8v8h8v8h24zM680 352v-8h-8v24h8v-8h8v-8zM912 416h-8v8h8zM912 424v32h8v8h-8v32h8v8h16v-8h24v-24h-8v-8h-8v-32h-8v-8h-8v-8h-8v8zM624 480h32v-8h16v-16h8v-16h-32v8h-8v8h-8v-8h-8zM880 512h-8v8h8zM888 552v-16h-16v8h-8v8zM888 560h-8v8h8zM760 584v-16h-16v8h8v8zM928 584h8v-16h-24v8h16zM744 616v-8h8v-16h-16v24zM912 640v24h8v16h-8v16h-8v16h-16v8h-8v-8h-8v8h-32v8h-8v24h48v-8h24v16h-8v8h16v8h-8v16h8v8h8v16h-8v16h48v-8h16v-8h-8v-8h-16v-32h16v-8h-8v-32h16v-16h-16v-80h-8v8h-16v-8h-8v-8h-8v8zM912 760h8v8h-8zM944 824v-8h16v8zM704 664h-8v24h24v-16h-16zM760 720h-8v8h8zM720 720v16h32v-8h-24v-8zM896 752h-8v8h8zM904 800v-8h-8v16h8v8h8v-16zM760 880h-8v24h16v-24h16v-8h-8v-16h-8v8h-8zM880 896v16h8v-24h-16v8zM792 928v16h8v-16zM728 952h-8v8h8zM784 992v16h32v8h8v-8h24v-8h-8v-8h8v-16h-16v-8h-8v-8h-8v8h-8v8h-16v-8h-16v24zM632 976v32h16v-8h8v-16h24v-8h-16v-8h-24v8zM736 1000h-16v8h16zM760 1040h-8v8h8zM832 1072h-8v16h8zM672 1120v-24h-8v-16h-8v24h-8v8h8v8zM888 1152v8h-8v8h16v8h8v8h8v8h8v8h-16v24h16v16h8v-8h8v8h24v8h-8v16h8v8h8v16h32v-8h-8v-8h24v8h32v-8h16v8h16v-8h-8v-24h8v-24h-8v-16h-8v-8h8v-24h-8v-8h-8v-8h-8v8h-24v-8h-16v8h-24v-24h-8v8h-16v8h-24v-8h-8v-16h-8v-16h-8v-8h-8v16h-16v8h16v8h-24v8zM864 1120v16h16v-8h-8v-8zM728 1136h16v-8h8v-8h-24zM816 1208v-8h8v-16h8v-16h-40v-24h-16v8h-8v8h8v24h-8v1l21 3l16 8l10 12zM856 1152h-16v8h16zM896 1176h-8v8h8zM904 1192h-8v8h8zM912 1232h-8v8h8zM904 1240h-24v24h24v-8h-8v-8h8zM920 1256h-8v8h8zM1008 208v24h-8v-8h-8v16h16v8h8v24h-8v8h-8v16h8v8h8v8h80v8h8v-32h8v-8h-16v-16h16v-8h-8v-16h8v-24h-16v-8h-8v-8h-8v8h-8v8h-8v-8h-8v8h-16v-8zM992 240h-8v8h8zM984 248h-8v8h8zM976 256h-8v8h8zM984 272h-8v8h8zM1016 344h-8v8h8zM1032 360h-40v8h8v8h16v8h8v-8h8zM1064 400h-8v8h8zM1056 408h-16v8h16zM1024 496v-24h-8v-16h-16v-8h-8v8h-16v8h8v16h16v16zM968 536h16v-16h-8v8h-8zM1056 560v-8h-16v-8h-8v16h8v8h8v-8zM1064 560h8v-24h-16v16h8zM1016 568h8v-8h-16v16h8zM976 584h-8v8h8zM936 600h-8v8h8zM1056 688v-32h-16v8h-16v8h-8v16zM1008 680h-8v8h8zM1040 824h8v-16h-8zM976 904h-16v8h16zM992 920h-16v8h16zM1040 944v-8h-16v-8h-8v8h-8v8h16v8h8v-8zM976 936h-16v16h16zM1008 992h-8v8h8zM976 1016h-8v16h8v40h-8v16h-16v8h-24v8h8v8h8v-8h16v24h16v-16h8v8h8v-24h-8v-24h40v8h24v-8h16v8h32v-8h8v-8h-8v-8h-24v-8h40v-8h-8v-8h-16v-16h8v-8h-8v-8h-8v8h-16v-8h-32v8h-8v8h-8v-8h-8v8h-24v8h-8zM1080 1032v8h-8v-8zM1040 1040v-16h8v16zM1048 1016h8v8h-8zM1056 1112v-16h-8v-8h-16v8h-8v16h8v8h8v-8zM944 1128h8v-16h-8zM984 1128h-8v8h8zM1232 376h-8v8h8zM1216 400v-16h-8v16zM1208 520h8v8h-8v16h-16v8h8v8h-16v8h16v8h8v8h24v-16h8v-16h-8v-8h8v-8h-8v-8h8v-24h8v-32h-16v-16h-8v-8h-24v64h8zM1224 528v-8h8v8zM1112 472v-16h-8v16zM1136 488h-16v8h16zM1208 520h-8v8h8zM1136 520v8h-8v8h16v-16zM1160 568h8v-24h8v-8h-16zM1184 552h-8v8h8zM1176 568h-8v8h8zM1112 576h-8v-8h-8v16h16zM1152 600h8v-8h-16v8h-16v8h8v8h8v-8h8zM1208 648v-8h8v-8h8v-8h-8v-8h-16v8h-8v8h8v16zM1208 656h-8v-8h-8v8h-16v16h24v-8h8zM1224 648h-8v8h8zM1160 728v16h8v-16zM1136 736v8h-8v16h8v-8h8v-8h8v-8zM1160 744h-8v8h8zM1168 752h8v-8h-8zM1168 752h-8v8h8zM1152 760h-8v8h8zM1176 760h-8v8h8zM1120 784h-8v8h8zM1272 816h-40v-8h-24v8h-16v40h8v8h8v8h-8v8h-8v16h-8v8h-8v8h-8v-8h-8v16h8v8h16v8h-8v16h8v8h-8v8h-8v-8h-8v32h-16v8h16v16h32v24h8v48h8v-8h16v24h8v8h-8v88h8v16h-8v32h8v8h-8v8h-8v8h-48v8h-8v8h8v24h8v8h-8v8h-8v8h8v8h8v8h-8v8h-32v8h-16v40h-8v24h8v8h8v16l3 4l2 4h19v16h-8v18l2 6h6v-8h8v-8h8v-24h-8v-8h16v-8h8v8h16v8h24v-16h8v40h8v8h8v8h-16v16h-64v8h-6l1 2l55 20l27 11l15-4l1-3l-7-42l3-26l8-23l11-22l12-6l12-12l69-46l15-12l5-13l8 2l69-17l28 3l14 5l49 12l25 13l19 3l19-3l18-6l19 9l14-3l1-2v-2l-7-19l-23-24l5-10l17-11l43-12l24-3l29 3l34-6l31 4l31 20l8 1v-13h8v-8h-16v-8h24v-8h8v8h8v-8h8v-8h16v-8h16v8h-8v8h8v8h-8v8h-8v3l3-2l25 6l12 9v-24h8v-8h16v-8h8v16h16v8h-8v8h8v24h-16v8h-6l6 8h8v8h-5l5 22l4 31l12 32l39 59h9v-8h32v24h8v-8h32v8h-8v24h8v16h-29l8 7h17l16-4l13-18l6-24l-2-40l-12-39l-15-31l-16-39l-46-78l-22-40l-5-38l4-18l9-29l66-89v-8h6l24-36l26-18l17-25l26-18l26-26l16-21h-5v-8h-8v-8h-8v-8h-8v-16h8v8h24v28l8-11v-2l-9-26l-8-21h-7v-8h4l-6-15l-8-9l4-7l7-31l12-31l4-32l-4-21l-20-13l2-2l9 8h4l8-9l17-24l3-32l-6-31l20-8l68-42l1-2l2-10l-2-2h-2l-90 44l-2 3l-1-1l14-9l63-33l32-26l27-13l24-8v-4h1l-3-8l-11-12l-3-1l-10 3l-14-5l-9-9l5-25l6-42l7-10l12-11h-13v8h-16v8h-8v8h8v8h-24v8h-32v8h-16v-8h-16v8h-8v8h8v24h-8v8h-8v8h-8v24h8v32h16v16h-8v-8h-8v8h-8v-16h-8v-8h-8v-8h-8v16h-8v-16h-8v-16h16v-8h-8v-8h8v-8h16v-32h16v-8h-24v8h-8v-8h-8v8h-8v8h-8v8h-8v-8h-8v-8h-8v8h-8v8h-24v-16h-16v-16h8v-32h-8v-8h8v-8h40v-8h24v-8h24v8h8v8h-8v8h8v8h-8v8h8v8h24v-8h8v8h8v-40h-8v-8h8v-32h-8v16h-8v-8h-8v-4l-14 6l-50 7v7h-8v8h-8v-13l-15 2l-18 17l-10 23l-12 46l-10 21l-18 15l-22 9l-24 2l-24 10l-10 10l3 18l-11 19l-37 35v2h-2l-36 26l-28 11l-28 6l-20-3l-3-14l9-22l5-24l9-17l1-19l-5-16h-6v8h-16v-8h-8v8h-16v-8h-8v-16h24v8h28l-15-21l-21-2l-16 10l-3-1l8-19l8-20l-3-21l-7-15l-11-11v4h-8v8h8v8h-8v16h-8v8h16v24h-8v8h8v8h-16v16h-24v-8h-8v8h-32v-8h-8v-16h-8v-16h-8v-8h8v-8h-8v-21l-3 9v39l8 78v38l-8 37l-14 11l-13 3l-10-10l-7-26l-7-38l-3-38l6-72l3 1l12-1l2-2l10-24h-8v-8h-7l-1 8h-2l-6 16h-1l-2 4l1-4h-14v-8h-24v-16h-8v-8h-8v8h-16v16h-8v8h-8v-8h-16v16h8v8h-8v8h-8v8h-8v-24h8v-8h-8v-8h-24v8h-8v-8h-16v8h-16v-8h-8v-8h-8v-8h-16v-16h-8v-8h-56v-8h-16v-16h-8v-8h-16v8h-8v16h-8v-8h-8v8h-8v8h-8v-16h-8v-8h-8v8h-8v-8h-8v8h-8v8h-8v-8h-8v8h-8v-32h-8v16h-8v8h8v8h-16v8h8v8h-8v16h-8v8h-8v8h8v16h24v16h16v-40h8v8h24v16h8v16h-8v16h8v16h-8v8h-16v8h-8v8h8v16h-8v24h16v8h8v8h-24v32h8v-8h8v16h-24v8h-8v16h8v8h-8v24h-8v8h8v8h8v16h-8v8h8v24h8v24h8v-8h8v-16h-8v-16h8v-8h8v-8h16v8h8v-16h16v8h-8v16h-8v16h16v8h-16v16h16v8h8v24h-8v8h8v8h-8v8h8v8h8v16h16v8h24v-8h24v16h-8v16h8v40h-8v24h-24v8h-8v8h-16v-16h-16v-8h-56v-8h16v-8h-8v-8h-8v-16h-8v-8h8v-8h-8v-16h-8v-8h8v-8h-8zM1192 960v16h-8v-16zM1208 976v8h-8v8h-8v-16zM1216 992v24h-16v-24zM1184 976v16h-8v-8h-8v-8zM1232 1096h8v8h-8zM1824 1280v-8h8v-8h24v16zM2096 1472h8v8h-8zM2248 864h8v8h-8zM2280 536h-8v-8h8zM1848 504h-8v-8h8zM1840 400v16h-8v-16zM1664 432h-8v-8h8zM1560 456v16h-8v8h-8v-8h-8v-16h8v-8h8v8zM1336 704v8h-8v-8zM1336 736h8v8h-8zM1344 728h16v8h-16zM1288 920h8v8h-8v8h-8v-24h8zM1384 944v8h-8v-8zM1472 944v8h-8v-8zM1512 936v-16h-8v-8h-8v-24h8v-8h8v-8h24v8h16v16h-8v8h-16v8h24v8h8v16h-8v8h-16v-8zM1624 864h8v16h8v8h-16zM1472 880h-16v-8h-8v-16h8v-8h16zM1496 840v8h-8v-8zM1528 832v8h-16v-8zM1248 832v-8h8v8zM1200 928h-8v-8h8zM1640 1264v-24h8v8h8v8h-8v8zM1544 1248v-16h-8v-8h8v-8h-8v-8h32v24h-8v8h8v8zM1360 1232v-16h8v-8h8v24zM1432 1208v8h-8v-8zM1512 1200v8h-8v-8zM1648 1200v-24h16v16h8v8zM1472 1192v-16h-8v8h-8v-16h8v-8h8v-8h8v40zM1384 1144h16v8h-16zM1368 1144v8h-16v-48h16v-24h-8v-8h-8v8h-8v8h-8v-24h-16v-24h16v-8h8v-16h32v8h8v-8h16v48h8v8h-8v8h-16v8h16v8h-8v16h8v24h-16v8zM1248 1056v-8h16v8zM1232 1048v-8h16v8zM1224 1040v8h-8v-8zM1216 1056h-8v-8h8zM1264 1080v-8h8v8zM1256 1096v16h-8v-16zM1272 1112v8h-8v-8zM1376 528v8h-8v-8zM1792 520v8h-16v-8zM1792 512h8v8h-8zM1784 512v-8h8v8zM1368 512h16v8h-16zM1440 504v8h-8v-8zM1624 480h8v8h-8zM1296 392v-8h8v8zM1328 416v-8h8v8zM1360 408v-8h8v8zM1312 512h-8v-8h8zM1368 360h8v8h-8zM1552 624v8h-8v-8zM1776 616v8h-16v-8zM1544 608h8v8h-8zM1744 592h8v16h-8zM1736 592v-8h8v8zM1752 584h8v8h-8zM1528 592h8v8h-8zM1432 584v-16h16v8h-8v8zM1408 568v-8h8v-8h8v8h8v8zM1544 568v8h-8v-8zM1608 560v8h-8v-8zM1504 568v-8h8v-8h8v16zM1520 544h8v8h-8zM1344 552v-8h8v8zM1376 592h24v8h-24zM1400 584h16v16h-8v-8h-8zM1448 776h-8v-8h-16v-40h-16v-8h8v-8h8v-8h8v-8h-8v-8h-8v-8h-8v-8h8v-8h32v8h16v8h8v-8h8v8h8v-8h8v8h16v16h-8v8h8v8h8v16h-8v8h8v24h-8v8h8v16h-8v8h-16v-8h-32v8h-16zM1440 784h-8v-8h8zM1408 736h-8v-8h8zM1400 744h-8v-8h8zM1392 672v-8h16v8zM1576 656v8h-16v-8zM1512 648h8v8h-8zM1552 640v8h-8v-8zM1480 656h-32v-16h32zM1368 688v24h-16v-16h8v-16h16v8zM1440 1000v-8h-8v-8h-8v-8h-8v-16h72v16h8v8h-8v16h-8v8h-8v-8zM1496 1000v8h-8v-8zM1424 1272v8h-8v8h-8v-8h-8v-8zM1440 816v8h-8v-8zM1440 808h8v8h-8zM1456 1056v-8h8v16h-24v-8zM1432 1056v-8h8v8zM1496 1080v8h8v-8h8v-8h8v-8h8v24h8v8h-8v8h-16v-8h-8v16h-48v-16h8v8h16v-8h8v-16zM1528 1056h-16v-8h16v-8h-8v-8h16v-8h8v-8h8v8h8v32h8v16h-24v-8h-16zM1512 1112v16h-8v-16zM1440 1112v8h-8v-8zM1464 1120v8h-8v-8zM1552 704v8h-8v-8zM1528 704v-8h16v8zM1552 720v8h-8v-8zM1520 816v8h-8v-8zM1608 888v8h-8v-8zM1640 936v8h-24v-8zM2056 1440h-16v-8h16zM2080 1416h16v-24h8v-16h8v8h8v24h8v16h-8v8h-8v-8h-8v8h-16v-8h-8zM2080 1384h8v16h-8zM2000 1256h-24v-8h-8v-8h-8v-8h8v-8h-8v-8h-8v-16h8v-8h8v16h8v-8h8v16h8v8h8v16h8v8h-8zM1816 1184v8h-8v-8zM1776 1168h-8v32h-8v-24h-8v-16h8v-16h8v16h8zM1888 1144h-8v-8h8zM1960 1088v8h-8v-8zM2024 1072v8h-8v-8zM1712 1056v-24h16v8h8v16zM1792 992v8h-8v-8zM1672 992h8v8h-8zM1664 992v-8h8v8zM1736 984h-8v-8h8zM1912 968v-8h8v8h8v8h-8v8h-16v-16zM1840 968v-16h16v8h-8v8zM1896 928v-8h-8v-8h8v-8h16v16h8v16h-8v-8zM2160 872h8v16h-8zM2136 864v8h-8v-8zM1872 864v-24h8v24zM2032 832h-8v-32h8v8h8v8h24v-8h8v-16h-8v-8h-24v8h-8v-8h-8v-48h8v-8h8v-8h16v16h8v-8h8v16h16v8h-8v8h16v16h8v8h-16v8h8v8h-8v16h8v16h-16v8h-8v-8h-16v8h-8v8h-8v-8h-8zM1872 704v8h-8v-8zM2136 672v-24h8v8h8v8h-8v8zM2096 640h8v16h-8zM2184 600h8v-8h24v16h-24v8h-8zM1792 584v8h-8v-8zM2176 560v8h-8v-8zM2160 560v8h-8v-8h-8v-8h-8v-8h-16v8h-8v8h-32v-8h-24v-24h24v-8h8v8h8v-8h48v16h8v8h16v16zM2040 560v8h-8v-8zM2184 520h-8v-8h8zM2192 520v8h-8v-8zM2184 456v8h-8v-8zM2224 456v-8h8v8zM1504 1016v8h-16v-8zM1528 1120h-8v-8h8zM1848 1232v16h-8v-16zM1848 1232v-16h8v-8h8v24zM1752 1240h-8v-8h8zM1720 1192h8v16h-16v-8h8zM1672 1120h8v-8h8v32h-16zM1616 1136h-16v-24h24v8h-8zM1568 1152h-8v-16h8v-8h8v8h8v16h8v8h8v8h-8v8h-16v-16h-8zM1712 1160h-8v-8h8zM1664 1120v8h-8v-8zM1688 1200h8v8h-8zM1688 1272h8v8h-8zM2040 552v-8h8v8zM1784 552v-8h8v8zM1952 640h8v8h-8zM2000 824v16h-8v-16zM1984 824v-8h8v8zM1888 816h-8v-8h8zM1888 800h16v8h-16zM1936 768v8h-8v8h-8v-16zM1728 784h-8v-8h8zM1768 768h-16v-8h16zM1976 720h24v16h-16v8h-8zM1808 736h-8v-8h8zM1712 720h-8v-8h8zM1672 1048v8h-8v-8zM1864 608h-8v-8h8zM1984 768v8h-8v-8zM1800 1168h8v8h-8zM2056 1312v8h-8v8h-8v-16zM2080 1304v16h-8v-16zM2304 480h-8v-8h8zM2232 792h-8v-8h8zM2152 760h-8v-8h8zM2136 760h-24v-8h8v-8h8v8h8zM2152 776v-8h8v8zM2128 824v-8h8v8zM2112 816v-16h8v8h8v8zM2152 1536h-8v-8h8zM2496 272v-8h-8v24h-8v8h-8v8h-16v21l14-18l21-21l11-8l3-6zM2440 328v13l13-13zM2432 344v5l5-5zM2424 352v5l5-5zM2320 304h8v-14l-8 7zM2336 280zM1288 208h8v-5h-8zM1344 208h16v-8h10v-8h-2v-8h-13l-2 1l-9 19zM1704 400v8l3-8zM1680 408v8v2l3-10zM2080 1576h-8v4l2 4h3l21-9l16-15l1-4l-5-5h-4l-26 18zM2088 1520h-4l4 4zM2080 1512h8v-24h-8v8h-8v8h-4l12 12zM2064 1496h-3l3 5zM1912 1296v-8h-8v8h-24v15l11 1l22-16zM1984 1320h-5l5 5zM1136 816h-8v8h8zM1112 832v8h24v-8h-8v-8h-8v8zM1072 864h8v-8h-16v16h8zM1136 880h-8v8h8zM1144 888h-8v8h8zM1168 928h-8v16h8zM1128 944h-16v24h8v-8h8zM1176 952h-8v8h8zM1104 1016h-8v8h8zM1160 1024h-8v8h8zM1184 1032h-16v8h16zM1160 1056h8v-16h-8zM1176 1104v-16h-16v8h8v8zM1120 1112h16v-16h-16zM1136 1168v16h8v-16zM1288 248h-16v16h-8v16h8v8h8v8h24v-8h-8v-8h24v8h8v8h8v-8h8v-8h8v-8h16v-8h-16v-8h-16v-8h-16v-24h8v-16h-32v8h-8v-8h-8v16h8v8h-8v8h8zM1280 280h8v8h-8zM1272 208h-8v8h8zM1272 320v24h40v-8h-8v-16h-8v-8h-8v-8h-8v16zM1328 352h-8v8h8zM1296 464h-8v8h8zM1272 552h-8v8h8zM1280 824h8v8h8v-8h16v-16h-8v-16h8v-8h-16v-8h-16v-8h-8v-8h-8v24h-8v16h16v8h8zM1272 784v8h-8v-8zM1304 832h-8v8h8zM1320 832h-8v8h8zM1320 856h-8v8h8zM1312 888v-16h-8v16zM1392 264v-16h-16v-8h-16v16h8v8h8v8h8v-8zM1392 272h8v-8h-8zM1392 272h-8v8h8zM1400 288h-8v8h8zM1440 704h-8v8h8zM1504 288h-8v8h8zM1496 336v-9h-2l2-1v-6h-24v8h-8v16h24v-8zM1496 368v-8h-8v8zM1496 368v8h8v-8zM1504 720h-8v8h8zM1488 736h-8v8h8zM1512 744h-8v8h8zM1512 776v-8h-8v-16h-8v-8h-8v8h-8v8h-8v8h8v8zM1480 744h-16v8h16zM1560 1216h-8v8h8zM1760 384h-16v8h16zM1760 432h16v-8h-16zM1752 432v16h8v-16zM1816 384h-8v8h8zM1792 416h-16v8h16zM1784 440h-8v8h8zM1792 448v16h8v-16zM1976 1312h-6l6 5zM2288 392v8h8v-8zM2240 416h-8v8h8zM2400 160h-8v8h8zM2408 288h-8v8h8z"/>
<path fill="#d1e5f0" transform="scale(0.25)" d="M288 120h-8v32h-16v8h8v8h-8v16h32v-8h8v-24h8v-24h8v-16h-8v-40h-8v-8h-8v8h-8v8h-8v16h8zM528 160h-8v8h8zM496 184h8v-8h-16v-8h-8v8h-8v24h24zM368 176v8h8v-8zM352 224v-16h-8v8h-8v16h8v-8zM248 248v-8h-24v32h24v-8h16v-16zM392 248v-8h-16v16h8v8h16v-16zM608 272v-16h-24v16h8v8h8v-8zM488 272v-16h-16v8h-8v8h8v8h8v-8zM224 304v-8h-8v-8h-8v8h-8v8h8v8h8v-8zM632 328h16v-16h-8v-8h-8zM408 312v8h16v-8zM208 344v-16h-8v-8h-8v24zM432 352v8h8v-8zM432 384v8h8v-8zM488 424h-8v-8h-8v-8h-16v40h24v-16h8zM176 424h-8v8h8zM672 456h8v-8h-24v8h-16v24h8v-8h16v-8h8zM536 488v8h-8v16h16v-8h8v-8h-8v-8zM560 512v8h8v-8zM184 552v-16h-16v16zM608 632v40h32v-64h-8v-16h-8v-8h-8v8h-8v32h-8v8zM256 624v16h24v-24h-16v8zM120 656v88h8v8h24v-8h24v24h8v8h8v32h8v24h8v8h8v8h-8v8h16v24h8v32h8v-8h24v-8h8v-8h-8v-32h-8v8h-8v-16h8v-8h-8v-24h-8v-8h-8v-16h8v-8h-8v-8h-8v-40h8v-16h-16v-8h-8v-16h8v-8h8v-16h8v-8h-8v-16h-8v-8h-8v-8h-24v8h-16v-8h-8v-8h-16v8h-24v16h-8v8zM288 640v8h8v-8zM488 696v-16h-16v16zM176 768h-8v8h8zM176 800h8v-16h-8zM264 832h-8v8h8zM432 864v-8h-8v8h-8v8h8v8h16v-16zM248 944v8h-8v3l26 33l2 4h4v8h8v8h8v26l11 22h29v-40h-8v-8h16v-16h8v-16h-8v-8h-8v-8h16v-16h-24v-16h-8v8h-16v-8h-24v-8h-8v-8h-16v8h-24v-8h-8v-8h-8v8h-8v8h-8v4l14 8l18 12zM512 1080h24v8h8v8h8v16h16v8h8v-8h8v-24h8v-16h16v-8h-16v-8h-16v-16h-8v-16h-40v8h-8v8h-8v8h-8v8h8zM576 1072v-8h8v8zM376 1064h-16v8h16zM608 1088h-16v8h16zM616 1096v8h8v-8zM600 1152v-32h-8v8h-8v-8h-8v24h8v8zM1096 208h-16v8h16zM1024 280h-8v8h-8v8h8v8h16v8h16v-8h16v8h32v-8h-8v-32h8v-16h-16v-16h8v-16h-16v-8h-48v16h-8v24h16v16h-8zM712 240v8h8v-8zM672 304h16v-24h-16zM824 368v-24h-16v-8h-8v16h-8v8h8v8zM696 344v16h8v-8h8v-8zM1024 368v8h8v-8zM912 472v16h16v8h16v-24h8v-8h-8v-8h-16v-8h-8v24zM1224 472v-16h-24v8h8v8zM1024 480h-16v16h16zM1144 520h-8v16h8zM984 528h-8v8h8zM880 536v8h8v-8zM1160 536v8h16v-8zM880 544h-8v8h8zM1072 544h-16v8h16zM1048 552h-8v8h8zM1200 552v8h16v-8zM1008 560v8h8v-8zM1104 568h-8v8h8zM968 584v8h8v-8zM736 600v8h16v-16h-8v8zM920 656v8h16v-8h-8v-16h-8v8h-8v8zM1200 656h-8v8h8zM904 720h-8v24h8v16h16v8h-8v16h-8v8h8v8h32v8h8v-24h-8v-16h-8v-8h16v-16h8v-8h-8v-24h8v-24h-8v-8h-8v-8h-24v16h-8v24h-8zM720 680h-8v-8h-8v16h16zM1120 784h-8v8h8zM928 816h-8v16h16v-24h-8zM1224 848v-8h8v-8h-8v-8h-24v24h8v-16h8v16zM1064 856v8h8v-8zM1192 888v8h8v-8zM768 904v-16h-16v16zM976 920v8h16v-8zM800 928h-8v8h8zM976 936h-8v8h8zM1192 944h8v8h8v-8h8v-8h-24zM1016 936v8h16v-8zM1112 960h16v-16h-8v8h-8zM824 1000v-16h-16v8h-8v8h8v8h8v-8zM1040 1016v-16h-8v8h-8v8zM1024 1032v-16h-32v16h-8v16h16v-8h16v-8zM1008 1032v-8h8v8zM824 1072v8h8v-8zM1032 1088v24h16v-24zM1120 1096v8h16v-8zM656 1104v8h16v-8zM920 1184v56h8v-8h8v8h8v-8h8v-8h16v-8h8v8h24v-16h8v8h16v-8h32v-8h8v-8h8v-16h-8v-8h-8v-8h-8v8h-8v8h-16v-16h-16v8h-8v8h-16v-24h-16v8h-40v-16h-8v-8h-8v8h-8v8h-8v16h8v8h8v8zM1144 1168h-8v8h8zM800 1176v16h8v8h16v-16h-8v-8zM904 1208v8h8v-8zM1048 1224h-16v8h16zM1016 1224v8h8v-8zM1024 1232v8h8v-8zM1048 1240h-8v8h8zM1168 1280v32h8v8h-8v8h-8v8h16v24h-8v8h-16v-8h-16v8h-8v32h-8v40h16v8h-8v8h16v8h8v-8h16v-8h-24v-8h24v-16h16v8h-8v8h24v-8h8v-8h16v16h8v-8h16v-16h16v-8h-24v-16h16v-16h-16v-8h-8v-24h24v16h16v-16h8v-8h16v-8h-16v-40h-8v-8h-8v-8h-8v-8h-16v-16h-8v16h-8v8h-24v8h-8v-8h-16v8zM1256 1336h8v8h-8zM1264 1328h8v8h-8zM968 1280v8h24v-8zM1168 1448h8v-8h-8zM1200 1448v16h8v-8h8v-8zM1216 1544h8v8l21 9h3v-9h8v-24h-16v-16h-8v16h-24v8h-24v1l32 12zM1312 208v8h8v-8zM1320 248v-24h-8v-8h-16v40h16v-8zM1296 264v8h8v-8zM1312 272h-8v8h8zM1280 328h-8v8h8v8h16v-24h-16zM1256 376h8v8h8v-16h-16zM1256 392v8h8v-8zM1280 392v8h8v-8zM1224 424h16v-24h-16zM1328 400v-8h-16v16h8v-8zM1296 408v8h8v-8zM1312 440h8v16h24v40h16v8h24v-32h8v24h24v16h8v8h8v-16h8v-8h16v8h8v-8h8v8h24v8h16v-16h8v-8h8v8h16v-8h-8v-8h-8v-16h-8v-8h-8v-8h8v-16h-8v8h-8v8h-16v-8h8v-16h-8v-8h-8v-8h-8v8h-16v-16h-8v-16h-16v16h-8v-8h-8v-8h-8v-8h-8v-8h-8v8h-32v-8h-8v56h-8v8h-8v-8h-16v-8h-16v16h8zM1512 456v24h-8v-16h-16v-8zM1504 488h-24v-8h24zM1352 456h8v8h-8zM1384 456h8v8h-8zM1368 456v-8h8v8zM1384 440h16v8h-16zM1392 432v-8h8v8zM1384 432h-8v-8h8zM1376 384v8h8v16h8v-8h8v16h-40v-32zM1352 480h8v8h-8zM1248 432v8h8v-8zM1320 504v-16h-16v16zM1224 504v8h16v-8zM1296 520v-8h-8v8h-16v8h8v8h24v-8h8v-8zM1224 568v-8h-8v8zM1224 568v8h8v-8zM1296 640v8h-8v-16h-8v8h-16v16h8v8h8v-8h16v16h8v16h8v-8h24v-8h8v-32h-16v-8h-8v-8h-8v-24h8v-16h-16v32h-8v16h8v8zM1264 624h16v-8h-8v-8h-8zM1288 704v-32h-24v32zM1304 808v-16h-24v16zM1256 792v8h8v-8zM1272 824h-16v8h16zM1280 888v-24h-8v-8h8v-8h-16v8h-24v24h8v8zM1224 928v-8h8v-8h16v-8h-8v-24h-24v16h-8v8h-8v8h8v16zM1248 928v8h8v-8zM1312 968v8h-8v8h-8v-24h-16v-8h-8v-8h-8v16h8v8h8v16h-8v-8h-16v-8h-8v8h-8v8h-16v32h8v8h8v8h24v-8h24v16h16v-8h32v-40h-8v16h-8v8h-8v-32h32v-16h8v-8h-8v-16h8v-16h-16v-8h-24v8h-8v40zM1320 936h8v8h-8zM1296 1016v-8h8v8zM1232 968v-16h-8v-8h-8v8h-8v24h16v-8zM1248 960v-16h-8v16zM1216 1056v24h24v-24zM1304 1072v16h-8v8h8v16h-8v-8h-8v8h-8v16h-16v-8h-16v-8h-24v16h8v24h-8v32h16v16h-8v8h8v16h8v16h8v24h8v8h8v8h16v8h8v16h-8v8h16v56h8v16h8v-8h16v8h22l2-1v-7h8v2l16-13l5-13l7 2h4v-42h-8v-8h16v-8h-8v-8h-32v8h-16v-8h-8v8h-16v8h-8v-24h-8v-8h16v-16h8v-8h-24v8h-16v-8h-8v8h-8v-24h16v-8h-8v-8h-8v8h-8v8h-16v-16h-8v-24h8v16h8v-16h8v8h16v-8h16v-8h8v8h24v-16h8v-16h8v-8h-16v-8h8v-24h-8v-8h8v-8h-8v-24h-8v-8zM1312 1120v-8h8v8zM1272 1224v-8h-8v8zM1280 1344v8h8v-8zM1280 1376h8v-8h8v-8h-16zM1312 1384h-8v8h8zM1304 1408v8h6l2-1v-7zM1240 1456v-8h-8v8zM1248 1448v8h-8v8h8v24h8v6l1-8l8-23l8-15zM1328 264v8h8v-8zM1336 416v8h8v-8zM1336 464h-8v8h8zM1344 504v8h8v-8zM1320 560h24v-40h-16v8h-8v16h8v8h-8zM1328 536h8v8h-8zM1400 552v-16h-32v8h-8v8h16v16h16v-16zM1408 552h-8v8h8zM1392 624h8v-16h-24v-8h-8v-8h8v-8h-8v-8h-24v32h24v8h24zM1360 616v8h8v-8zM1328 632h8v-8h-8zM1368 712v16h8v8h8v-8h16v-16h16v-16h-8v-8h-8v-8h-8v-8h-8v-8h-8v24h8v8h8v16zM1336 688v8h16v-8zM1336 728h-16v8h16zM1352 776v24h-8v8h16v16h32v-8h16v8h8v-8h8v-24h-8v-8h8v-16h-8v-16h-8v8h-8v-8h-48v16h8v8zM1344 768v8h8v-8zM1400 928v-8h-8v8h-16v8h16v8h8v-8h8v-8zM1384 1000v8h24v-8h8v8h16v24h8v8h8v-8h8v-24h-8v-8h-16v-8h-8v-8h-24v-8h-8v-16h-16v8h-8v8h-8v8h8v8h8v8zM1424 1048v8h8v-16h-16v-8h-8v16zM1344 1080v8h8v-8zM1440 1104v-8h-8v-16h8v-8h-8v-8h-24v16h-8v24h8v8h8v-8zM1392 1136v8h24v8h16v-16h-24v-8h-8v8zM1344 1184v8h16v8h16v8h8v-8h16v-8h-8v-16h24v8h8v8h16v-32h-8v8h-16v-16h-24v8h-8v8h-8v8h-16v8zM1400 1184v8h8v-8zM1344 1192h-8v8h8zM1352 1200v8h8v-8zM1416 1216v-8h-24v24h24v-8h16v-8zM1344 1208h-8v8h8zM1320 1240v-8h8v-8h-16v16zM1328 1232v8h8v-8zM1392 1272h8v-16h-8v-8h8v-8h-32v40h8v-8h8v-8h8zM1344 1240h-8v8h8zM1416 1256h-8v8h8zM1344 1264v8h8v-8zM1328 1272v8h16v-8zM1368 1280h-8v8h8zM1480 336h16v-9h-2l2-1v-6h-24v24h8zM1456 376h-8v8h8zM1472 408v-8h-8v8zM1432 560h24v-24h-8v-24h-8v24h-8v-8h-8v24h8zM1416 520v8h8v-8zM1512 536v-8h-16v16h8v-8zM1472 536v8h8v-8zM1464 560h-8v8h16v-16h-8zM1488 576h-8v8h8zM1408 616v40h32v-8h8v-16h-8v-8h-8v-8h16v-8h8v-8h-8v-16h-32v16h-8v8h8v8zM1496 664v8h16v-16h-16v-8h-16v16zM1496 752v-8h-8v8h-8v8h8v8h8v-8h8v-8zM1480 848v-16h8v-8h8v-8h8v-8h-16v8h-24v8h-8v-16h-8v8h-8v16h24v8h8v8zM1480 872h-8v8h-8v8h32v-24h-16zM1424 896h8v16h-8v16h8v-8h16v-8h8v-16h8v-8h-8v-16h-8v8h-8v-8h-8v16h-8zM1496 928v24h8v-8h8v-16h-8v-8h-16v-8h-8v8h-16v16h8v8h16v-16zM1424 936v8h8v-8zM1496 1056v24h8v-8h16v-16h-8v-8h8v-16h8v-8h8v-24h-8v8h-8v-8h-8v8h-8v16h-16v-8h-8v8h-8v24h8v8zM1440 1048v8h16v-16h-8v8zM1472 1080v8h16v-8h-8v-8h-16v8zM1488 1120h-16v-8h-8v16h8v16h8v-16h8zM1440 1136h8v-16h-8zM1464 1136h-8v8h8zM1504 1144h-16v48h24v-8h24v-16h8v-8h-8v-8h8v-8h-8v-16h8v-24h-8v8h-8v8h-8v32h8v16h-8v8h-8v-24h-8zM1448 1152v8h16v-8zM1472 1192h-16v16h16zM1472 1264v-16h-8v-8h-8v-16h-8v-8h-8v8h-8v8h8v24h24v8zM1504 1248v8h8v-16h8v-8h16v-8h-8v-16h-16v8h-8v8h8v8h-24v8h-8v8h8v8h8v-8zM1424 1248v-16h-8v8h-8v8zM1448 1264h-8v8h-16v16h-16v8h8v8h-8v8h8v8h8v24h8v-40h-8v-8h8v-8h8v40h8v8h-8v8l26-7l28 3l14 5l49 12l21 11h6v2l17 3l19-3l18-6l18 9l8-2v-3h8l-7-21l-23-24l5-10l17-11l40-12v-2h-16v-16h8v-8h-16v8h-40v-8h-16v8h-8v8h-8v-8h-16v-8h-16v-8h-8v-8h-24v-8h-24v8h8v8h16v16h-64v-8h-8v8h-24zM1592 1360h-8v-8h8zM1568 1344h-8v-8h8zM1520 1296h-8v-8h8zM1520 1280h24v8h-24zM1464 1280v8h16v8h-8v8h-8v-8h-8v-16zM1552 424h-8v8h8zM1584 504v16h16v8h8v8h8v16h8v16h-8v16h-8v-8h-8v-32h-8v8h-16v-40h-16v8h-8v-8h-8v8h-8v8h8v8h8v32h-8v8h16v-16h16v8h-8v16h8v8h24v16h16v8h-8v16h-24v-16h-16v8h-8v16h-8v8h32v8h16v-8h8v-8h8v8h8v8h-16v8h-8v8h8v16h-8v8h8v8h-8v24h-8v16h24v8h24v8h8v8h8v8h-16v-8h-32v8h-16v-8h-8v-8h-8v-8h-8v8h-8v16h-24v8h-16v8h-8v8h16v16h8v8h-8v8h8v8h32v8h40v-8h16v8h24v-8h8v24h8v8h-16v-8h-8v32h-8v-8h-8v8h-8v8h8v8h24v16h-8v8h8v16h8v-8h8v-16h-8v-32h8v8h8v8h32v-24h8v24h8v-8h8v8h16v8h-8v8h-8v8h-8v8h-8v24h8v-8h8v8h8v16h24v8h8v8h-8v8h-8v-8h-8v-8h-16v8h-8v-8h-8v-8h-16v32h40v8h8v8h8v8h8v16h8v16h-8v8h-16v-24h-16v8h-8v24h-8v-16h-16v8h-8v16h-8v8h8v8h8v-8h24v8h8v-24h16v32h16v8h8v8h16v-16h8v8h16v-8h8v8h8v8h8v-8h16v48h24v-8h16v-8h8v-8h-8v-8h-16v-8h-16v-8h16v-24h8v32h8v-8h8v-8h8v16h8v8h-8v16h16v8h-8v8h16v8h16v16h8v-8h8v-16h8v-16h16v-32h-8v-16h-8v-8h-8v8h-8v-48h8v-16h8v8h8v-8h8v-8h-24v-24h16v-16h8v16h8v-8h8v8h8v-16h8v8h8v8h-8v8h-16v16h16v8h16v16h8v8h8v-16h8v-24h8v16h16v8h8v16h-8v-8h-8v8h-16v8h-16v16h-8v-8h-8v8h-8v24h8v8h24v8h27l18-24h-13v8h-8v-16h24v4l24-33v-3h-16v-16h16v-8h8v8h6l2-3v-5h3l19-28l25-17l2-3h-17v-8h-8v-8h8v-8h8v16h15l5-8h-12v-16h8v-8h8v-8h8v8h8v7l11-8l13-12v-3h-8v-16h-16v-16h24v16h16v-8h7l1-1v-7h-16v-8h-8v-16h-8v16h-16v-8h-16v-40h16v8h8v-8h16v-8h8v-8h12l-3-8h-1l-2-8l-8-8l4-7l2-9h-4v-8h-48v8h-8v-8h-8v-8h-8v-8h-8v8h-24v8h-8v8h8v8h-16v8h-8v8h-8v16h-8v16h-8v8h8v8h8v8h-8v8h-8v-8h-16v8h-8v-8h-24v-8h-16v8h-8v-16h24v-8h-8v-16h-8v8h-8v8h-8v-8h-8v-8h-24v-8h8v-8h-8v-8h-8v-8h-8v-8h-16v-8h-8v-8h24v-16h-8v-8h-24v24h-16v8h8v16h8v8h-8v8h-8v8h-16v-8h-8v-16h-8v8h-32v16h-24v8h-8v-16h8v-8h8v-8h8v-8h8v-8h-8v-8h-8v-8h-8v-8h16v8h16v-8h8v8h16v-24h-8v-8h-8v-8h-16v-24h-24v8h-16v8h-8v16h8v8h8v8h-8v16h-8v-24h-8v24h-16v8h-16v8h-8v-8h-8v-16h-16v8h-8v16h8v16h-8v24h16v-8h24v16h-24v8h8v8h-16v-8h-8v8h-24v8h16v8h-16v8h-8v-24h-16v-32h-24v-16h-8v8h-8v-16h8v-8h8v8h8v8h8v8h24v-8h8v-8h8v-8h8v-24h-16v-8h-8v-16h-24v-8h16v-8h8v8h8v-8h8v-8h-24v-8h8v-8h-32v16h-8v8h-8v-24h-8v-8h-8v-8h24v-8h16v8h8v-8h16v16h8v-8h8v-8h8v16h-8v8h8v8h8v24h8v16h16v-8h8v8h8v8h8v-8h8v-8h8v-16h8v-8h-8v-8h-8v-24h-8v8h-8v-8h-8v-8h-8v-24h-8v-8h8v-8h8v-8h-16v-32h-8v-48h16v-8h-8v-8h32v-32h-8v-8h-16v8h-8v8h-8v8h-4l1 47l-8 37l-14 11l-13 3l-10-10l-7-26l-7-38l-3-38l1-26h-16v-8h-8v16h-24v8h-8v16h-8v-16h-16v8zM1656 760h16v-8h8v24h8v8h-8v8h-8v-16h-8v-8h-8zM1696 784v8h-8v-8zM2192 952v-8h8v8zM2216 952h8v8h-8zM2136 816v8h8v16h-16v-24zM2024 888h-8v8h-16v8h-8v16h16v16h-8v-8h-16v-8h-8v-8h-8v-24h-8v-8h-8v-8h32v8h8v8h16v-8h16zM1968 920h-8v-8h8zM1936 824v8h-8v-8zM1824 816v-24h8v24zM1856 768v-8h8v8zM1776 856v8h8v-16h8v32h24v8h-16v24h16v-8h8v-8h16v8h-8v24h16v-24h8v16h8v24h8v8h-16v16h-16v8h8v8h-32v-8h16v-16h-8v-8h-8v-16h-16v-16h-16v-8h-8v-40h-8v8h-24v-16h8v-8zM1864 912h16v-16h8v-16h8v8h8v8h-8v8h16v8h8v8h32v8h-24v8h-8v16h16v16h8v16h-24v8h-16v-16h-8v-8h8v-32h-8v-8h-24v-8h-8zM1872 896v-16h8v16zM1880 952v8h-8v-8zM1872 968h-8v-8h8zM1816 984v16h-8v8h-32v-8h8v-8h-8v-8h-8v-8h8v-8h8v8h16v16h8v-8zM1656 832h-8v-8h8zM1704 776h-8v-8h8zM1808 960v8h-8v-8zM1776 952h8v-8h8v16h-16zM1736 680h8v8h-8zM1736 696h-8v-8h8zM1720 656h-8v-8h8zM1624 824h-8v-8h8zM1672 872v-8h16v8zM1736 880h-8v-8h8zM1864 848h-8v-8h16v-8h8v8h8v16h-8v16h-16v-8h-8v-8h8zM1856 872h-8v8h-24v-8h16v-8h16zM1856 880v8h-8v-8zM1824 736v-8h8v8zM1792 1088v-32h8v16h8v8h8v8h-8v8h-8v-8zM1800 1048h8v-8h16v16h-24zM2168 928h-8v-16h8v8h8v8h8v8h-8v8h-8zM2160 928v24h-8v8h-8v-8h-16v8h-8v16h8v8h-16v-16h-8v-24h8v-8h32v8h8v-16zM2168 904h8v8h-8zM2160 904v-16h-8v-8h8v-8h16v8h-8v24zM2136 880v-8h-8v-16h16v8h8v16zM2128 880h-8v-8h8zM2176 904v-16h16v8h-8v8zM2152 856v-24h8v-16h16v8h8v8h8v8h-16v8h8v16h-24v-8zM2200 840v8h-8v-8zM1928 904v-8h16v8zM1928 880h8v8h-24v-16h16zM1928 864h8v8h-8zM1944 848h8v8h-8zM1928 1016h-8v-8h8zM1904 1000v8h-8v-8zM1872 1000h-8v-8h8zM1872 1024v-8h8v8zM1968 928v16h-8v-16zM1976 944v-8h8v24h-16v-16zM1952 1168h-8v-8h8zM1952 1160v-16h8v16zM1936 1160v8h-8v-8zM2088 1024h8v8h-8zM2080 1024v-16h8v16zM2136 1016h8v16h-8v-8h-8v-8h-8v-16h8v8h8zM2056 1000h8v16h-8zM2032 1000v-8h8v8zM2024 992v-8h8v8zM2064 920h-8v-8h24v8h8v-8h8v32h-24v-16h-8zM2000 944v8h-8v-8zM2072 952h8v8h-8zM2120 856v8h-8v-8zM2200 928v-8h8v8zM2192 976h10l12-8h-22zM1536 504v8h8v-8zM1544 560v-8h-24v8h8v16h8v-16zM1512 624v16h16v-8h8v-16h8v-8h-8v-8h-8v-8h-8v-8h-8v16h-8v8h-8v8h8v8zM1528 656v8h16v-8zM1576 720v8h8v-8zM1536 736v8h8v-8zM1528 768h-8v8h8zM1608 856h-8v8h8zM1600 912v-24h-8v-8h-32v24h8v8h8v-8h16v8zM1576 968v24h8v8h-8v8h8v8h-32v8h32v16h-16v24h8v-8h8v24h8v-8h8v16h16v-16h-8v-24h8v16h16v-16h8v-8h8v8h32v-16h-8v-8h-8v-24h-24v-8h-8v-8h16v-8h8v-8h8v8h8v-8h16v16h8v-16h8v-16h-24v8h-8v-8h-16v8h-24v8h-8v-16h-24v-16h32v-16h-8v-8h-8v8h-8v8h-16v8h-8v-16h-8v8h-8v8h8v24h-8v8zM1624 1040v-8h8v-8h16v8h-8v8zM1608 984h-8v-8h8zM1592 976v-8h8v8zM1520 952h-8v8h8zM1536 992v-16h-16v16zM1568 1080h-8v8h16v-16h-8zM1552 1104v-16h-8v-16h-8v8h-8v8h8v8h8v8zM1592 1112v-8h-8v16h-8v8h8v8h16v-24zM1544 1168v16h16v-24h-8v8zM1592 1224v-16h-8v-8h24v8h8v-8h8v-8h8v8h8v-16h-8v-8h16v-16h-24v-8h8v-8h8v-8h8v-24h-16v8h-16v8h8v16h-24v24h-8v16h-24v8h8v24h8v8zM1600 1248v-24h-8v8h-8v16h-8v8h16v-8zM1568 1248h8v-16h-8zM1632 400h-16v8h8v16h8v-8h8v-8h-8zM1616 408h-8v8h8zM1640 448v8h8v-8zM1648 472v-8h-8v8zM1624 472v8h8v-8zM1688 688h-8v8h8zM1608 864v16h8v8h8v-16h-8v-8zM1680 984v8h8v-8zM1680 1024v8h24v-8zM1656 1072v8h8v-8zM1680 1072h-8v8h8zM1632 1088h-16v16h16zM1648 1096h-8v8h8zM1656 1104v8h8v-8zM1696 1168v-16h16v-8h-24v8h-8v16zM1680 1224v-16h-8v8h-8v8zM1688 1232h-8v16h8v8h8v8h8v24h8v1l16-2v-7h8v7l16 2v-1l24-1v-31h-8v-8h-8v-8h-8v16h-8v16h-8v-24h-8v8h-8v-8h-8v-24h-8v8h-8v-16h-8zM1624 1248v8h8v-24h8v-8h-8v-8h-8v8h-8v8h-8v8h8v8zM1616 1256v8h8v-8zM1728 408v-5l-2 5zM1728 448v8h8v-8zM1744 456h-8v8h8zM1728 464h-2l2 16zM1760 480h-8v8h8zM1776 488h-8v8h8zM1744 496h-8v8h8zM1752 552v8h8v-8zM1752 568v8h8v8h8v8h-8v24h8v-8h16v16h8v16h-16v-8h-8v32h-8v16h40v8h8v8h8v8h16v-8h-8v-8h8v-8h8v-24h16v-16h8v-8h-8v-8h-16v8h-8v-16h16v-8h-8v-8h8v-16h24v8h4l-1-6l9-22l5-24l9-17v-3h-2v-8h-8v-8h-8v-8h-16v8h-24v16h-8v8h-8v-8h-8v-8h-8v8h-16v8h8v16h8v16h-16v-8h-24v8h-8v8zM1840 528v8h-8v-8zM1800 592v8h-16v-8h-8v-8h16v8zM1800 584h8v8h-8zM1808 616v-8h8v8zM1816 600h8v8h-8zM1808 656h-8v-8h16v-8h16v16h-8v8h-16zM1808 640v-16h8v16zM1872 600v8h8v8h-8v8h8v16h-8v24h8v16h-8v40h8v8h24v16h8v-8h16v-16h8v-24h-8v-32h-8v8h-8v-8h-8v-8h8v-24h8v8h8v8h8v8h8v8h16v8h32v16h-8v-8h-16v16h8v8h8v8h16v8h8v16h-8v8h-8v-8h-8v24h8v16h-8v16h16v-8h8v8h8v-24h-8v8h-8v-16h8v-8h8v-8h8v-8h8v-8h-8v-8h8v-40h16v-8h8v-16h8v16h16v16h-8v8h-16v-8h-8v8h-8v24h8v-8h8v16h24v8h8v8h8v8h-8v8h16v-8h8v-16h8v-8h8v-16h-8v-8h8v-8h8v40h40v8h8v-8h16v16h8v8h-8v24h24v-8h8v-24h-16v-16h8v-8h8v8h8v8h16v-8h8v8h5l4-29l-2-11h-7v-13l-15-10l2-2l9 8h2l11-9l7-11v-3h-8v-16h16v7l1-1l3-32l-6-31l20-8l68-42l1-2l2-10l-2-2h-2l-90 44l-2 3l-1-1l14-9l63-33l32-26l27-13l16-6v-6h9l-2-8h-7v-7l-5-5l-3-1l-10 3l-14-5l-9-9l6-32h-29v-8h-8v8h-32v16h8v8h-8v16h8v32h-8v-8h-24v8h-8v16h8v8h8v8h-8v8h-16v8h-8v8h-8v-32h-8v8h-16v8h-8v8h8v8h-8v8h-16v8h8v8h-16v-8h-8v-8h8v-16h-8v-8h-8v8h-16v-8h-16v-24h-8v8h-8v-8h-8v-8h16v-8h8v-8h8v-8h16v8h-8v8h8v24h32v-8h-8v-8h-8v-16h8v-8h-8v-16h8v-24h-16v8h-8v8h8v16h-24v-16h8v-8h-8v-8h-16v-8h-8v16h-8v-8h-5l-3 8l-16 13v3l-8 1v7h-8v-4l-9 4l-24 2l-24 10l-10 10l3 18l-11 19l-29 29l-8 6v2h-2l-6 5v3h-4l-12 9v7h-11l-31 13l-28 6zM1944 656v-16h8v-8h8v8h8v8h-16v8zM1968 632h8v-8h8v-16h-8v-16h24v8h8v16h16v-8h16v8h-8v8h-32v8h-8v16h-8v-8h-16zM2048 616v8h-8v-8zM2048 608h8v8h-8zM1960 656h8v8h-8zM1992 664h8v8h-8zM2000 688v16h-8v-16zM2112 728v-8h8v8zM2136 688h8v8h-8zM2328 496h-8v-8h8zM2152 488v-8h-8v-16h16v24zM2096 680v-8h24v8h-8v8h-8v-8zM2120 664h8v-8h-8v-8h-8v8h-16v-8h-8v-16h-8v-8h40v-8h-16v-8h-8v-8h-8v-16h-16v-8h8v-16h-40v8h-8v8h-8v-16h8v-16h8v-8h8v-8h16v-8h16v-8h8v-8h16v-8h8v-8h8v24h24v16h8v8h16v8h16v24h-24v8h-16v-8h-24v-8h16v-8h-24v16h-8v8h16v8h-16v16h72v8h8v-24h8v8h16v-8h8v8h8v16h-16v8h-8v8h-8v-8h-8v16h-16v24h-8v8h-8v8h-32zM2072 592h-8v-8h8zM2064 600h-32v-16h16v8h16zM2024 584h-8v-8h8zM2008 576v-8h8v8zM2168 576v16h-8v-16zM2016 712h-8v-8h8zM2112 696v8h-8v8h-8v8h-16v-24zM2232 696v16h-8v-16zM2224 760v8h-8v-8zM1720 752v8h8v-8zM1736 760h-8v8h8zM1704 816v16h8v-8h8v-8zM1768 872v-8h-16v8zM1728 920h-16v8h-8v16h8v-8h8v-8h8zM1688 1040v24h16v-8h8v-8h-8v-8zM1704 1112v8h8v-8zM1736 1136h-16v16h16zM1744 1152v8h8v-8zM1728 1216h32v-24h-8v-8h-8v-8h8v-8h-8v-8h-8v8h-8v16h8v8h-8zM1696 1168v8h16v-8zM1712 1200h-8v-16h-8v32h8v-8h8zM1784 1192h16v-8h-8v-8h-24v8h8v16h8zM1832 472v8h8v-8zM1824 648h-8v8h8zM1856 664h-8v8h8zM1792 880h-8v32h8zM1816 920v8h8v-8zM1848 928v8h8v-8zM1824 936v8h8v-8zM1848 936h-8v8h8zM1840 952h-8v8h8zM1816 1176h8v8h8v8h8v-40h-8v-8h-24v-8h-24v8h-8v16h8v8h32zM1832 1200v8h8v-8zM1824 1232v-16h-16v16h-8v8h16v-8zM1792 1256v8h16v-8zM1864 1304v-16h-8v16zM1880 464h1l-1-1zM1936 696h8v-8h-8zM1920 744h-8v8h8zM1880 808v-8h16v-8h16v-16h-8v-8h-8v8h-8v8h-16v8h-8v8h8v8zM1880 912v8h8v-8zM1880 1176v8h8v-8zM1872 1232h-8v16h8v8h8v8h8v8h8v-8h8v-16h-8v-8h8v-8h8v-8h16v-16h-8v-16h-8v-8h-8v8h-8v8h-8v8h-16v8h8v8h-8zM1896 1208v8h-8v-8zM1936 1224h-8v8h8zM1936 1248v8h8v-8zM1872 1264h-8v8h8zM1920 1288v3l3-2l13 3v-4zM1896 1304v4l6-4zM1992 624h8v-16h-8zM1944 672v8h8v-8zM1944 696v8h8v-8zM1968 720h-8v-8h-16v16h-8v8h16v8h8v-8h8zM1976 1024h-8v8h16v-16h-8zM1984 1032v8h8v-8zM2016 1096v-32h-8v-16h-16v8h-8v8h-8v24h16v8zM2016 1136v-8h-24v24h16v-8h16v-8zM2016 1184v-24h-16v8h-8v8h16v8zM1984 1184v-8h-8v8h-8v16h24v-16zM1960 1224h-8v8h8zM1952 1256h-8v24h8v-8h24v-16h-8v-8h-8v-8h-16v8h8zM2024 1248h24v8h16l-10-18l-5-38l6-24h-15v8h8v8h-16v-8h-16v8h-8v8h-8v8h-8v8h8v16h8v8h8v24h8zM2064 1256v16h-24v16h32v16h8v8h8v8h-8v8h-16v-8h-8v8h-8v8h-16v8h-8v8h-16v8h-8l4 37l12 32l24 36l8-1v8h-3l5 8h6v-8h8v-24h-24v-8h-8v-8h8v-8h8v-8h8v-24h-8v-8h40v-8h8v8h8v-16h16v8h-8v8h8v8h8v24h8v8h-8v8h-24v24h-8v16h32v-8h8v24h8v32h8v8h8v-8h3l4-15l-2-39l-12-40l-4-10h-5l1-8l-8-16h-1v-3l-12-29h-4v-8zM2040 1360h8v8h-8zM2056 1368v8h-8v-8zM2024 1280h-8v8h8zM2088 512v8h8v-8zM2056 792h-24v8h8v16h8v-8h16v-8h-8zM2064 840v8h8v-8zM2080 856h-8v8h8zM2088 864v8h8v-8zM2072 872v8h8v-8zM2072 928h8v-8h-8zM2064 1056h-8v8h8zM2048 1160h-8v-8h-8v16h16zM2040 1272v-8h-8v8zM2064 1304h-8v8h8zM2024 1320v8h8v-8zM2072 1424h-8v8h8zM2096 1440h-8v16h8zM2152 408h8v-16h-8v8h-2l-4 16h6zM2144 424v-3l-1 3zM2104 504v8h8v-8zM2152 608h-32v8h8v24h24v-8h8v-16h-8zM2160 608v8h16v-8zM2120 632h-8v8h8zM2112 760v8h8v-8zM2104 800v8h8v-8zM2176 832h-8v8h8zM2104 880v-8h-8v8zM2112 1480v8h8v-8zM2112 1488h-8v8h8zM2096 1560v8v8l8-7v-16zM2232 344h8v-16h-8zM2216 344h8v-16l-8 1zM2216 344h-8v8h8zM2240 424v8h8v-8zM2240 440v8h24v-8h-8v-8h-8v8zM2240 480h8v-16h-16v-8h-8v16h8v8h-8v8h16zM2184 752v8h8v-8zM2240 776v8h8v-8zM2240 856v8h8v-8zM2224 880h-8v8h16v-8h8v-8h-16zM2272 319l-8 3v14h8zM2312 416v8h8v-8zM2304 472v-8h8v-8h8v-16h-16v8h-8v8h-8v8h8v8zM2272 904v4l3-4zM2464 312v3l3-3zM2399 400l2-16h-1v-8h-8v24zM2488 288v2l2-2z"/>
<path fill="#fddbc7" transform="scale(0.25)" d="M288 112v16h-8v24h-8v24h-8v8h24v-8h16v-8h-8v-8h8v-8h8v-16h-8v-8h8v-8h8v-8h-8v-40h-24v8h8v16h-8v8h8v8zM480 176v24h16v-24zM384 240v16h16v-8h-8v-8zM256 264v-16h-8v-8h-8v8h-16v16h8v8h16v-8zM472 256v16h8v-16zM584 256v16h24v-16zM216 304v-8h-8v8zM424 312h-8v8h8zM208 328h-16v8h16zM472 416h-8v8h-8v16h24v-16h-8zM552 504v-8h-16v8zM176 552v-16h-8v16zM616 608v8h-8v32h8v8h-8v16h32v-64h-8v-16h-24v16zM280 632v-8h-8v-8h-8v8h-8v8h8v8h8v-8zM120 632v16h-8v8h16v40h-8v24h8v8h8v8h8v8h8v-8h8v-24h8v16h8v8h8v16h-8v8h16v16h8v16h8v16h8v-16h16v-16h-8v-8h-8v-16h-8v-16h8v-8h-8v-8h-16v8h-8v-32h16v-8h24v-40h-8v-8h-8v-8h-16v8h-24v-8h-24v16h-16v-16zM152 712v-8h8v8zM160 696h8v8h-8zM168 664v8h-8v-8zM296 640h-8v8h8zM480 680h-8v8h8zM128 744v-16h-8v16zM224 848h16v-8h8v-16h-8v-8h-8v8h-24v8h8v8h8zM248 856v-8h-8v8zM232 864v-8h-8v8zM264 896h8v-8h-8v-8h-24v-16h-8v24h16v16h16zM424 864v16h8v-8h8v-8zM224 936h8v8h16v8h-8v3l26 33l2 4h12v16h8v24h8v8h-5l8 16h21v-8h8v-24h-8v-16h8v-8h8v-24h-8v-16h8v-16h-16v-8h-32v-8h-16v-8h-32v8h-8v-8h-16v-8h-16v8h-8v4l7 4h9v5l4 3h4v3l8 5zM512 1072h8v8h32v8h8v-8h8v-48h-8v-8h-16v8h-16v8h-8v8h-8zM600 1144v-16h-16v8h-8v8h8v8h8v-8zM1032 256v8h8v8h-16v8h-8v8h-8v8h16v8h40v8h16v-32h-8v-16h8v-24h8v-8h-16v-8h-24v-8h-16v8h-8v16h-8v8h8v8zM720 240h-8v8h8zM688 296v-8h-8v-8h-8v16zM648 328v-16h-16v16zM712 344h-16v8h16zM800 352v16h16v-8h8v-8zM1224 416h16v-16h-16zM672 464v-16h-8v8h-8v8zM1208 456v8h8v8h8v-16zM1024 496v-16h-8v16zM1176 544v-8h-16v8zM1072 544h-8v8h8zM1048 552h-8v8h8zM976 592v-8h-8v8zM752 600h-8v8h8zM896 720v24h8v16h40v-8h8v-8h-8v-24h8v-8h-8v-8h8v-16h-8v-16h-24v24h-8v16h-8v8zM712 672h-8v8h8zM944 776h-8v-8h-24v32h32zM920 816v16h8v-8h8v-8zM1072 856h-8v8h8zM768 896v-8h-16v8zM1224 904h-8v8h8zM800 928h-8v8h8zM824 1000v-16h-16v16zM1040 1008h-8v8h8zM1224 1056v24h16v-16h-8v-8zM1136 1104v-8h-8v8zM1048 1112v-16h-16v16zM976 1160h-56v-8h-8v32h8v24h16v8h-8v8h-8v8h16v8h8v-16h16v-8h8v-8h8v8h24v-16h8v16h8v-8h16v-16h40v-8h-16v-24h-8v16h-24v-16h-16v16h-24v-24h-8zM968 1200h-8v-8h8zM800 1184v8h8v8h16v-16zM1216 1288v-8h-8v8zM1208 1296h-8v8h8zM1208 1312h-8v8h8zM1264 1320v-16h-8v-16h-8v-16h-16v8h-8v8h-8v24h8v16h8v8h8v-8h8v-8zM1200 1320h-8v8h8zM1184 1368h-56v32h-8v24h16v8h-8v8h16v-8h8v-16h8v8h8v-8h16v16h16v-8h8v-8h8v8h24v-8h8v-8h-8v-24h-8v-24h-16v-16h-8v-8h16v-8h-24v8h-16v8h8v8h-8zM1184 1376v8h-8v-8zM1144 1448h-16v8h16zM1216 1544h8v8h8v4l14 6l2-1v-9h8v-8h-8v-16h-16v8h-8v-8h-8v8h-8v8h-5l13 5zM1288 336v-16h-8v8h-8v8zM1296 336h-8v8h8zM1360 408v-32h-8v32zM1360 440v-8h-8v8zM1256 432h-8v8h8zM1304 504h8v-16h-8zM1240 504h-8v8h8zM1280 520v16h16v-8h8v-8zM1344 560v-16h-16v16zM1304 592h8v-8h-8zM1320 592h-8v8h8zM1344 592v8h8v8h8v-16zM1384 608h-8v8h8zM1312 616h-8v8h8zM1272 616h-8v8h8zM1288 632h-8v8h8zM1304 672h16v8h16v-16h8v-8h-8v-16h-24v-8h-8v8h-8v16h8zM1280 640h-8v8h8zM1264 680v8h8v8h8v-16zM1328 728h-8v8h8zM1288 808h8v-16h-8zM1376 816h24v-8h16v-40h-8v-8h-40v8h-8v8h-8v8h8v32h8v8h8zM1272 888v-24h-16v16h-8v8zM1304 936v16h8v8h-8v8h8v8h8v8h8v-8h16v-8h-8v-24h16v-8h-8v-8h-8v8h-8v16h-8v-16zM1368 992h16v8h8v8h16v-8h8v8h8v-16h-8v-8h-8v8h-8v-8h-16v-24h-8v16h-8zM1240 1024h8v8h8v-8h8v-8h16v-8h-8v-24h-8v-8h-8v8h-16v8h-8v24h8zM1320 1016v16h16v-8h-8v-8zM1296 1040v-8h-8v8zM1328 1120v16h8v-32h-8v-24h-8v-8h-16v8h8v8h8v32zM1296 1112h-8v8h8zM1248 1176h8v16h16v-8h32v-32h-8v-16h-32v-8h-24v16h-8v8h8v16h8zM1336 1184v-8h-8v-8h-8v8h-8v16h16v-8zM1392 1184v-8h8v-16h8v-8h-16v8h-8v16h-8v8h-16v8h8v8h16v-16zM1280 1232h16v-8h-16zM1280 1232h-16v8h-8v16h24zM1384 1256h8v-8h-24v24h8v-8h8zM1296 1272h16v-8h16v-8h-32zM1312 1296v-8h-8v8zM1336 1312h-8v16h-8v8h-8v24h8v16h8v-8h24v8h8v-8h8v8h2l14-11l5-13l3 1v-33h-8v-8h8v-16h-8v8h-8v-8h-32v8h-8zM1312 1304h-8v8h8zM1320 1328v-16h-8v16zM1264 1456v-8h-8v8h-8v16h8v16l13-32zM1488 336v-16h-8v8h-8v8zM1392 384h-8v8h8zM1416 408v-16h-8v16zM1400 448v16h8v8h8v8h16v8h8v-8h16v-8h16v-16h8v-32h-8v-8h-16v-8h-24v-8h-8v16h-16v32zM1496 496h16v-16h-8v8h-8zM1432 504v-8h-8v8zM1496 528v16h8v-16zM1448 544v-8h-8v24h16v-16zM1384 536v16h-8v8h16v-8h8v-16zM1424 592v32h8v-16h8v-8h8v-8h-16v-8h-16v8zM1424 632v8h-8v16h16v-8h8v-16zM1488 656v-8h-8v8zM1488 656v8h24v-8zM1376 680v8h16v-16h-8v8zM1392 696v8h8v8h16v-16zM1376 728h16v-16h-8v8h-8zM1480 752v8h16v-16h-8v8zM1456 832v-16h-8v16zM1480 824h-16v8h24v-8h8v-8h-16zM1488 872v-8h-8v8h-8v8h8v8h8v-8h8v-8zM1456 888h-16v-8h-8v32h16v-8h8zM1488 912h-8v8h8zM1464 928v8h16v-16h-8v8zM1496 944h8v-16h-8zM1456 1008h-16v16h16zM1480 1032v16h8v8h8v16h8v-16h8v-16h8v-8h8v-16h8v-8h-24v8h-8v8h-16v-8h-8v8h-8v8zM1512 1032v-8h8v8zM1456 1048v-8h-8v8zM1416 1080h8v-8h-8zM1432 1096v-8h-16v-8h-8v8h-8v8h8v8h16v-8zM1480 1120h-8v-8h-8v16h8v8h8zM1416 1136v16h16v-8h-8v-8zM1512 1192v-32h-8v-8h-8v-8h-8v48zM1424 1168v8h-8v8h8v8h16v-24zM1464 1192h-8v8h8zM1416 1224v-16h-16v24h8v-8zM1448 1224h-8v8h8zM1504 1240v-8h-8v8zM1456 1240h-8v8h8zM1472 1248h-8v8h8zM1496 1288h-8v16h-8v8h24v8h16v-24h-24zM1464 1312v-16h-24v16h8v16h24v-16zM1512 1336h-8v8h8zM1536 496v-16h-8v16zM1592 512h-8v8h16v-16h8v-8h-16zM1576 536v-16h-16v16zM1568 560v-16h-8v16zM1536 552h-8v8h8zM1552 576v-8h-8v8zM1576 568v8h-8v8h16v8h8v-24zM1608 600h24v-8h-8v-8h-16zM1528 640v-16h8v-24h-16v8h-16v8h8v24zM1584 624h-24v24h16v-16h8zM1608 648v-16h-24v8h8v8zM1624 744v8h8v-8h8v-40h-8v-16h8v-8h8v-8h40v-8h8v24h8v-8h8v-16h-8v-16h16v-16h8v-16h-8v-8l-9 7l-13 3l-10-10l-10-40h-6v8h-8v-8h-8v-8h-8v8h-8v8h-8v8h8v16h-8v8h-8v8h-8v24h16v8h8v8h-24v32h8v16h-8v8h-8v8h-8v24zM1640 608v8h-8v-8zM1632 672v8h-8v-8zM1728 600v-8v-1l-2 9zM1536 808h8v32h48v8h8v-8h8v-8h-8v-8h16v-8h8v8h8v-32h16v-16h-16v8h-16v-8h-8v8h-24v-8h-8v-24h-8v24h-8v8h-8v16h-16zM1608 816v-16h8v16zM1536 800v-16h-8v16zM1568 888h-8v16h16v-24h-8zM1584 888v16h8v-8h8v-8zM1632 936v-8h-8v-8h-8v16zM1616 976v-16h-8v-8h-16v-8h-16v24h16v-8h8v8h8v8zM1632 984h8v-8h8v-8h-16v8h-8v8h-8v8h-16v-16h-24v8h8v8h8v16h-8v16h8v8h-8v8h-8v16h8v8h8v8h8v-32h8v-8h8v8h8v-8h8v-16h16v24h8v8h8v-8h8v-16h-8v-16h-24v-8h-8zM1536 984h-16v8h16zM1600 1088h16v-16h-16zM1576 1088v-8h-8v8zM1544 1080h-8v8h8zM1624 1088h-8v16h8zM1552 1088h-8v8h8zM1536 1120h-8v8h8zM1600 1128v-8h-16v8zM1536 1152v-16h-16v16zM1592 1200h8v-8h24v-24h-8v-24h-16v16h8v8h-16zM1520 1184h16v-16h-8v8h-8zM1552 1184h8v-16h-8zM1584 1200h-8v8h8zM1512 1224h16v-8h-8v-8h-8zM1576 1232h-8v8h8zM1592 1248v-8h-8v8zM1536 1248v-8h-8v8zM1536 1248v8h8v-8zM1568 1264v-16h-16v24h-8v32h8v8h16v8h8v-8h8v-24h8v8h8v8h-8v32h8v8h16v8h16v8h8v-32h7l-5-5l6-10l-8-1v-8h8v-8h8v11l8-5v-6h8v3l8-3l8-2v-6h-8v-8h-8v-8h-8v16h-8v-8h-32v16h-8v-8h-8v-8h-24v-16zM1576 1336h-8v24h8v-8h8v-8h-8zM1528 1344h-8v4l8 2zM1592 1344v24h8v-24zM1624 424h8v-16h-8zM1624 488v48h16v8h24v8h8v-8h2l-1-8h-9v-8h8v-48h-24v8zM1648 744v16h24v-32h24v8h8v-16h-16v-16h-16v16h-8v16h-8v8zM1688 752v16h8v-16zM1688 808v-16h-24v16zM1632 832h-8v8h24v-16h-16zM1656 840h16v-8h-8v-8h-8zM1664 864h16v-8h-8v-8h-8zM1656 872h-16v8h16zM1704 888h8v8h8v8h8v-8h16v8h8v8h16v-8h8v-16h-8v-8h-8v8h-32v-8h-8v-8h-16zM1696 896v-16h-40v16h8v8h16v-8zM1648 896v-8h-8v8zM1656 896h-8v8h8zM1632 896h-8v8h8zM1712 928h-8v8h8zM1704 968v-16h-8v16zM1664 976h8v-16h-8zM1696 992v24h16v-8h16v8h16v-16h-40v-8zM1704 1056v-16h-16v16zM1696 1112v-8h8v-8h8v-16h-24v8h8v8h-8v16zM1648 1128v-16h-16v16zM1696 1160v-16h-8v16zM1640 1176v-8h-8v8zM1680 1216h-8v8h8zM1616 1240h16v-16h-16zM1688 1248h16v-16h-24v8h8zM1720 1280v8l8-1v-31h-16v8h-8v16zM1768 528v-16h-8v-8h-8v8h-8v16h8v8h8v-8zM1816 544v-24h-16v16h8v8zM1760 592v16h16v-24h40v8h-16v8h-8v8h-8v16h16v-8h8v-8h8v-8h16v-8h16v-8h8v-8h8v8h12l8-21l5-23l7-13v-7h-16v-16h-16v8h-16v8h-8v24h-24v16h-8v8h-24v-8h-16v8h-8v8h8v16zM1832 568h16v8h-16zM1824 568v-8h8v8zM1880 601v23h8v8h8v8h8v-8h24v16h16v-16h24v-8h8v-8h8v-8h-16v-8h-8v-16h-3l-31 13l-6 2v1h-8l-14 3zM1928 624h8v8h-8zM1728 632v16h8v-8h16v-8zM1800 672v8h16v8h8v-8h16v-16h-24v8h-8v-16h-16v-8h-8v-8h-8v24h-8v16h8v-8zM1728 656h-8v8h8zM1752 664h-8v8h8zM1736 672h-8v8h8zM1736 712v32h24v8h16v-8h8v-24h8v-8h-16v-8h-8v-8h-8v-8h-16v16h-8v-8h-8v16zM1744 800h-8v8h-8v24h8v-8h8v-8h16v8h8v8h8v8h16v8h8v8h-8v8h8v16h8v-24h8v8h16v-8h24v-16h-40v-16h8v-8h-8v-32h8v-16h-8v8h-32v24h-24v-8h-8v-24h-16v8h-8v8h8v8h8zM1752 856h8v-8h8v-8h-16zM1744 856h-8v16h8zM1808 888v24h8v-8h8v-16zM1736 976h8v8h16v-8h8v-16h8v-16h16v32h16v8h8v-8h16v-16h-16v8h-16v-16h16v-8h-8v-8h-8v-8h-8v-8h-48v8h-8v8h-8v32h8zM1744 1016v16h24v32h8v8h-16v8h-8v8h-8v24h8v8h8v8h24v-8h8v-32h-8v-16h8v-24h8v-8h16v-24h8v8h8v8h-8v16h8v8h-32v16h16v8h8v-8h8v24h8v8h-8v8h8v8h16v-24h24v8h8v-8h8v8h8v-8h16v16h-8v16h8v8h-8v16h16v8h24v-16h8v16h16v-16h8v-16h-8v8h-8v-16h8v-8h-16v8h-8v-16h-16v-8h8v-16h-24v-16h32v-8h-8v-8h8v-24h-16v8h8v8h-32v-8h-8v-8h-8v-8h8v-8h-16v16h-8v8h-8v-16h-24v-8h-8v-8h16v-16h-32v8h-8v16h-8v16h-8v-8h-8v-8h-24v8zM1792 1040v-8h8v8zM1832 1016h8v8h-8zM1776 1016v8h-8v-8zM1928 1136h16v8h-16zM1936 1120v8h-8v-8zM1744 1088v-24h-16v8h-8v8h8v8zM1728 1096h-8v8h8zM1824 1096h-8v-8h-8v8h-8v24h16v-16h8zM1792 1136v8h-8v16h24v8h8v8h24v-16h-16v-8h-16v-8h-8v-8zM1736 1144h-8v8h8zM1752 1208v-24h-8v-16h-16v16h8v16h-8v8zM1776 1192h16v-16h-16zM1752 1288h8v-8h16v-16h-8v-8h-8v-8h-8v24h-16v15l16 2zM1840 608h-24v16h8v8h8v-16h8zM1848 632h-8v8h8zM1880 640v24h8v-24zM1872 712h8v8h24v8h8v-8h16v-24h-8v-24h-8v-8h-16v8h-8v8h-8v8h-8zM1848 768v-8h16v8h24v-16h-8v-8h-16v-8h-16v-8h8v-8h-16v-8h-8v32h-8v24zM1824 744v-16h-16v16zM1912 792v-16h-8v16zM1840 784v16h16v-8h-8v-8zM1888 800v-8h-8v8zM1888 832v8h16v-8h-8v-16h-16v8h-8v-8h-8v8h-8v8zM1936 872v8h16v-8h8v-8h-8v-8h-24v-8h-8v-16h-8v8h-8v8h-16v8h-8v8h8v8h32v-8h24v8zM1872 872h-16v8h16zM1840 880h-8v8h8zM1872 904v-16h-32v8h8v8zM1880 952v8h-8v32h24v-16h-8v-16h8v-8h8v-16h-8v-8h-24v24zM1896 1112h-8v8h8zM1872 1160h16v-16h-24v-8h-8v8h-8v16h8v16h8v-8h8zM1880 1216v16h-8v24h8v8h16v-8h8v-8h-8v-16h8v-8h8v-8h8v-16h-24v16zM1880 1208h-8v8h8zM1872 1272v-8h-8v8zM1980 568l-4 3v21h16v-16h-8v-8zM1968 672h16v-8h16v24h8v-8h24v-8h16v-16h24v16h8v16h8v8h8v-24h16v-16h-24v-8h-8v-24h8v-32h-16v8h8v16h-24v8h-48v8h-8v24h-16v-8h-16zM1992 688h-16v8h16zM1952 728v-16h-8v16zM1928 728h-16v8h16zM2016 752v-32h-8v16h-8v8h-16v16h24v-8zM1944 768v8h-8v8h24v-16zM2000 768h-8v8h-8v8h24v-8h-8zM1944 800h-8v8h8zM1952 840h8v24h24v16h40v-24h-16v-8h-8v-8h-16v16h-8v-8h-8v-16h16v-8h-8v-16h-8v8h-8v-8h-8v8h-24v8h8v24h16zM1960 888h-8v8h8zM1928 904v-16h-24v16h16v8h8v8h8v-8h8v8h16v-16h-8v-8h-8v8zM1984 936v-16h-16v8h8v8zM1960 936v-8h-16v8zM1944 968h8v-8h8v-16h-24v-8h-16v8h8v8h8v8h8zM1976 968h-8v8h-8v8h-8v8h-8v-8h-8v8h-8v8h-8v-8h-8v24h8v-8h24v-8h8v24h8v-8h8v-8h8v-8h16v-8h-8v-16h24v16h8v-8h32v8h16v16h24v-16h-8v-8h-8v-8h8v-8h-16v-8h8v-8h-8v-8h-8v-8h8v-8h-8v-8h-8v-8h48v-8h8v24h-8v8h8v8h8v-16h16v8h16v-8h8v-8h8v-24h-8v-8h-8v-8h-16v8h-16v8h-8v-8h-8v-8h-8v8h-32v-8h-24v8h-8v8h-8v8h-24v8h24v16h8v8h-8v16h-8v8h-16v-8h-8v8h-8zM2056 896h-8v-8h8zM2048 904h-8v-8h8zM1936 1016h-8v8h8zM1928 1024h-16v8h16zM2000 1088v8h16v-16h-8v-8h-8v-16h-8v8h-8v16h8v8zM2008 1152v-24h-16v24zM1944 1168v24h16v-24zM1984 1192h8v-8h-16v16h8zM1968 1248h-16v24h8v-16h8zM2048 488h-8v8h-1l1 8h8v8h8v8h8v-8h8v-16h8v8h8v-8h24v-8h8v-8h-16v-8h8v-8h-8v-4l-9 4l-15 1v7h-8v8h-8v-8h-8v8h-8zM2040 528h8v-8h-16v8h-8v16h8v-8h8zM2008 576v-16h8v-8h8v-8h-16v8h-8v16h-8v8zM2072 560v8h-16v8h24v-16zM2056 576h-8v8h8zM2024 616v-8h8v-8h-8v-8h8v-8h-16v-8h-8v8h-8v16h8v8h8v8zM2056 704v-8h-8v8zM2016 696v24h16v-16h-8v-8zM2056 704v8h8v16h8v-16h8v-8zM2008 720v-16h-8v16zM2056 808v-16h-16v16zM2040 864v-16h-8v16zM2072 936h-8v8h8zM2040 1056v8h8v-8h8v-8h-8v-8h8v-8h8v16h24v16h16v-8h8v-16h8v8h16v-16h-8v-16h-16v-8h8v-8h-8v-24h-16v32h8v8h-8v16h8v8h-24v-16h-32v-8h8v-16h-24v8h-8v40h8v8zM2016 1024h-8v8h8zM2040 1088v8h-16v24h8v8h8v-16h8v8h16v-16h-8v-16zM2080 1104h16v4l21-28h-5v-8h-16v8h-8v8h-8v-8h-24v8h8v16h8v-8h8zM2064 1136v-8h-8v8zM2040 1160h-8v8h8zM2000 1168v8h8v8h8v-16zM2000 1208v8h8v16h8v16h16v-8h8v-8h8v8h7l-1-2l-5-38l6-24h-7v24h-8v-8h-24v8h-8v8zM2056 1242v14h8zM2064 1256v16h8v16h8v-3zM2056 1280h-8v8h8zM2016 1424v5l2 3h6v-8h8v-8h16v-24h-8v-40h8v16h8v8h16v8h16v-8h8v-8h16v-8h8v-8l-10-16h-6v-8h1l-5-8h-4v8h-48v8h-8v8h-8v16h-32l4 37l10 27zM2056 1448h-16v-8h-16l10 16h14v16h16v-16h-8zM2150 400l-4 16h6v-16zM2144 424v-3l-1 3zM2160 448v8h8v-24h-8v8h-25l-7 6v18h16v-8h8v-8zM2144 480h-16v24h16v-8h8v-8h-8zM2136 592h24v-8h-16v-8h-8v-8h-8v8h-8v8h-8v8h8v8h16zM2128 624v16h16v-8h8v-8zM2144 680v-8h-16v8zM2112 688v24h8v-8h8v-16zM2112 744v-24h-32v8h8v16h8v8h8v-8zM2152 816h-16v8h16zM2152 848v-16h-8v16zM2128 832h-16v16h8v8h16v-16h-8zM2088 952h-8v8h24v-16h-16zM2120 976h16v16h-8v16h24v8h-8v16h6l8-12l18-12h-8v-8h-16v-8h8v-16h8v-8h-16v-8h-24v8h-8zM2176 1000v8l9-8zM2088 1112h-8v8h-8v8h8v1l8-10zM2080 1296v8h8v8h8l-10-16zM2120 1360v24h8v-8h3l-7-16zM2136 1392l-2-8h-6v8zM2136 1408v32h-24v24h-8v8h16v-8h8v-8h8v24h8v32h8v8h11l4-15l-2-40v-1h-5v-8h2l-9-30l-4-10h-5v-8zM2208 432v8h-8v8h8v8h8v-24zM2176 480v-24h-8v8h-8v8h8v8zM2232 480h8v-8h8v-8h-24v8h8zM2192 472v8h-8v8h24v-16zM2200 512h16v-16h-16zM2168 512h-16v8h16zM2200 552h8v-16h-8v8h-16v8h8v8h8zM2232 592v8h-8v8h-8v8h-16v8h-16v8h-8v16h8v8h-16v8h-8v24h-8v8h-8v8h-8v8h8v16h16v8h8v-8h8v8h16v-8h8v8h8v8h8v-24h8v-24h8v-16h16v-16h8v8h16v-8h-8v-16h16v-24h12l-6-33l20-8l68-42l1-2l2-10l-2-2h-2l-90 44l-2 3l-1-1l14-9l63-33l27-22v-5h8l8-4v-4h8l24-10v-14h-8v-13l-10 3l-14-5l-9-9l5-24h-28v-8h-8v16h-16v8h-8v16h8v16h-8v8h16v8h-16v8h-16v-16h-16v8h-8v16h8v8h8v8h8v8h-32v16h8v8h-32v-8h8v-16h-8v-8h-16v16h8v16h-8v8h-8v8h-64v16h48v8zM2360 496v8h-8v-8zM2320 536v8h-8v-8zM2264 680h-12l10 7l2-1zM2248 680v16h-8v8h8v8h24l-1-8h-7v-8h-8v-8h3l-10-7l1-1zM2232 736h24v-16h-16v8h-8zM2200 752h8v-8h-8zM2216 768v-16h-8v16zM2168 816h24v8h8v8h8v8h8v16h8v-8h24v-8h12l-3-8h-1l-2-8l-8-8l4-7l2-9h-20v-8h-16v16h-32v-16h-8v-8h-8v8h-8v-8h-16v16h8v8h16zM2152 864v16h8v-8h16v8h8v8h8v-8h8v-24h-16v8h-24v-8h-16v8zM2200 896h-8v8h8zM2192 912h-8v8h8zM2240 912v16h8v-8h8v-8zM2168 968h8v8h8v-8h8v-24h8v8h16v-8h8v8h8v3l8-8v-3h-8v-8h-32v-8h-8v8h-8v8h-24v16h8zM2224 960v1l2-1zM2145 1408l-1-1v1zM2399 400l1-16h-8v16zM2352 416h-16v16h8v-8h8zM2312 464v-16h-16v16z"/>
<path fill="#f4a582" transform="scale(0.25)" d="M304 96v-16h-8v24h8v8h8v-16zM272 160v16h8v8h8v-8h8v-16h8v-8h8v-8h-8v-8h-8v-8h8v-16h-8v8h-8v24h-8v16zM480 176v24h8v-8h8v-8h-8v-8zM256 256h-8v-16h-8v8h-8v24h16v-8h8zM400 256v-8h-16v8zM480 272v-16h-8v16zM608 272v-8h-16v8zM208 336v-8h-16v8zM464 416v24h8v-24zM544 504v-8h-8v8zM176 552v-8h-8v8zM616 616h8v8h-8v8h-8v8h8v16h24v-32h-8v-32h-16zM272 640v-16h-8v16zM176 664v16h8v16h8v-16h8v-8h16v-24h-8v-8h-8v-8h-8v8h-24v24zM120 696v24h24v16h16v-16h-8v-8h-8v-16h16v-24h-24v16h-8v8zM200 720v8h-8v16h8v-8h8v-16zM208 784h8v-16h-16v8h8zM240 840h8v-8h-8v-8h-8v8h-8v8h8v8h8zM424 864v16h8v-8h8v-8zM248 888v16h8v-8h8v-8zM240 955l4 5h4v5l16 19l4 8h12v16h8v8h8v8h8v8h-8v19l3 5h5v-16h8v8h8v-8h8v-8h-8v-8h-8v-16h16v-16h8v-8h-8v-24h8v-8h-8v-8h-8v-8h-48v-8h-16v-8h-8v8h-16v8h8v8h8v8h-8zM288 1000h8v8h-8zM296 1032v-8h-8v8zM520 1072h40v-16h8v-16h-16v-8h-16v8h-8v8h-8zM592 1144h8v-16h-16v8h-8v8h8v8h8zM720 248v-8h-8v8zM1064 264v-8h-8v8zM1288 336v-8h-16v8zM712 352v-8h-8v8zM808 368v-16h-8v16zM1256 440v-8h-8v8zM664 464v-8h-8v8zM1024 496v-16h-8v16zM1288 520v8h8v-8zM1288 536v-8h-8v8zM1336 552v8h8v-16h-16v8zM976 592v-8h-8v8zM1312 672h8v8h8v-8h8v-16h-8v-8h-16v-8h-16v8h8v16h8zM944 688v-8h-8v8zM1280 688v-8h-8v8zM896 744h8v8h24v8h8v-8h16v-8h-8v-40h-8v-8h-16v16h-8v8h-8v8h-8zM1328 736v-8h-8v8zM920 784h-8v8h8v8h16v-8h8v-16h-8v-8h-16zM1296 808v-8h-8v8zM936 824v-8h-16v8zM1264 880h8v-16h-16v8h8zM1312 976h24v-24h-16v-16h-16v8h8zM1344 944v-8h-8v8zM824 984h-8v8h-8v8h16zM1272 1000h-8v-16h-16v8h-8v8h-8v16h40zM1320 1016v16h8v-16zM1240 1072v-8h-16v8zM1328 1088v-8h-16v8zM1320 1096v16h8v-16zM1048 1112v-8h-8v8zM1256 1176h8v8h24v-8h8v-24h-8v-8h-24v-8h-8v-8h-8v8h-8v16h8v8h8zM912 1176v8h32v-8h-8v-8h-16v8zM1312 1176v16h16v-16zM824 1200v-8h-8v-8h-8v16zM1016 1192h-8v16h16v-8h-8zM1288 1232v-8h-8v8zM1264 1240v16h8v-8h8v-8zM1328 1264v-8h-8v8zM1256 1312v-16h-8v-8h-16v8h-8v8h8v8h8v8h8v-8zM1328 1352v16h8v-8h24v8h16v-24h8v-16h-8v-8h8v-16h-24v-8h-8v8h-8v8h-8v8h-8v16h-8v16zM1208 1360v-8h8v-8h-24v8h-8v8h8v8h8v-8zM1144 1440v-8h-8v8zM1265 1464l4-8h-21v8zM1248 1552v-8h-8v-8h-8v16zM1208 1544h-5l5 2zM1488 336v-16h-8v16zM1432 416h-8v8h-8v8h-8v16h-8v8h8v8h8v8h16v8h16v-8h16v-8h8v-16h8v-8h-8v-16h-16v-8h-16v-8h-8zM1512 496v-8h-8v8zM1400 552v-8h-8v-8h-8v16zM1456 552v-8h-16v8zM1360 600v-8h-16v8zM1432 616v-8h8v-8h-16v16zM1528 608v-8h-8v8h-16v8h16v8h8v-8h8v-8zM1432 648v-8h-8v8zM1424 656v-8h-8v8zM1512 664v-8h-8v8zM1392 688v-8h-16v8zM1416 704v-8h-16v8zM1384 728v-8h-8v8zM1496 760v-8h-8v8zM1360 776v24h8v8h8v8h8v-8h8v8h8v-8h8v-16h8v-8h-8v-24h-16v8h-8v-8h-8v8h-8v8zM1488 824v-8h-8v8zM1480 832v-8h-8v8zM1456 832v-8h-8v8zM1488 864h-8v8h-8v8h8v8h8zM1448 912v-24h-8v8h-8v8h8v8zM1480 936v-8h-8v8zM1384 976v-8h-8v8zM1528 992v-8h-8v8zM1424 1000v-8h-8v-8h-8v16zM1400 1000v-8h-16v8zM1480 1040h8v8h24v-24h16v-16h-8v8h-16v8h-8v8h-8v-8h-8zM1448 1016v-8h-8v8zM1424 1088h-16v16h8v-8h8zM1424 1144v-8h-8v8zM1520 1152h16v-8h-8v-8h-8zM1488 1152v8h8v16h-8v16h24v-24h-8v-16zM1384 1160v16h8v-8h8v-16h-8v8zM1536 1176v-8h-8v8zM1440 1184v-8h-16v8zM1376 1200h8v-16h-16v8h8zM1416 1224v-8h-16v8zM1376 1248v16h8v-8h8v-8zM1448 1304v-8h-8v8zM1520 1296h-16v8h-8v8h8v8h8v-8h8zM1456 1312v-8h-8v8zM1472 1312h-16v16h8v-8h8zM1664 536v-16h8v-32h-16v-8h-8v8h-16v40h-8v8zM1576 528v-8h-16v8zM1568 560v-16h-8v16zM1640 568v24h8v8h8v16h-8v24h-8v8h8v16h-8v-8h-16v8h8v8h32v-8h40v-24h8v-16h-8v-7l-6 1l-10-10l-10-40h-6v8h-8v8h-8v-16zM1688 656v-8h8v8zM1712 616v-2l-6 2zM1592 584v-8h-8v-8h-8v16zM1616 616v16h16v-16zM1576 640v-8h-16v8zM1600 648v-16h-8v16zM1632 696v-8h-8v8zM1632 744v-8h8v-8h-8v-8h8v-8h-16v-8h-8v8h-8v8h-8v16h8v8zM1608 728h8v8h-8zM1672 752v-8h-16v8zM1576 768v-8h-8v8zM1632 792v-8h-8v8zM1552 840v-8h40v-8h8v-32h-16v-8h-8v8h-16v24h-16v24zM1616 800v16h16v-16zM1632 840h16v-16h-8v8h-8zM1648 880v-8h-8v8zM1648 896v-8h-8v8zM1576 888h-16v16h8v-8h8zM1592 896v-8h-8v8zM1624 936v-8h-8v8zM1576 960h16v-8h-8v-8h-8zM1664 976h8v-16h-8zM1616 968v-8h-8v8zM1640 976v-8h-8v8zM1584 976v16h8v-16zM1592 1000v32h32v-32h8v-8h-8v-8h-8v16h-8v-8h-8v8zM1664 1040v-24h-16v8h8v16zM1600 1072v-24h-8v-8h-16v16h8v8h8v8zM1608 1088v-16h-8v16zM1624 1104v-8h-8v8zM1632 1112v16h8v-8h8v-8zM1608 1160v-8h-8v8zM1600 1168v24h16v-8h8v-16zM1552 1256h8v-8h-8zM1568 1256h-8v8h8zM1568 1312h8v-8h8v-16h8v-8h-8v-8h-16v8h-16v8h-8v8h8v8h16zM1672 1288v-8h-8v8zM1608 1296v-8h-8v8zM1600 1336h8v8h16v-8h8v-8h8v-8h4l4-8h-8v-8h-8v-8h-24v16h-8zM1768 512h-24v8h8v8h16zM1768 560v24h40v-16h-8v8h-16v-8h-8v-8zM1776 592h-16v16h8v-8h8zM1744 640v-8h-8v8zM1720 648v-8h-8v8zM1768 664v16h8v-16zM1704 664v16h8v-16zM1760 696v-8h-16v8zM1744 744h32v-16h8v-16h-8v-8h-40v8h8zM1680 728v-8h8v-8h-16v16zM1704 728v-8h-8v8zM1672 736v-8h-8v8zM1752 800v-32h-8v8h-16v8h16v16zM1688 808v-8h-16v8zM1672 840v-8h-8v8zM1760 848v-8h-8v8zM1672 856v-8h-8v8zM1704 880v8h16v-16h-8v8zM1752 888v16h16v-16zM1736 888h-16v16h8v-8h8zM1672 904h8v-16h-16v8h8zM1760 968v-8h16v-32h-40v40h8v8h24v-8zM1712 936v-8h-8v8zM1728 1008v8h8v-16h-32v8zM1744 1032h24v-8h-8v-8h-16zM1704 1056v-16h-8v16zM1744 1080v-8h-16v8zM1760 1088h-8v32h24v-8h16v-16h-8v-16h-8v-8h-8v8h-8zM1696 1080v16h-8v8h16v-16h8v-8zM1728 1104v-8h-8v8zM1696 1160v-8h-8v8zM1744 1176h-8v32h16v-8h-8zM1760 1264v-8h-8v8zM1712 1264v16h16v-16zM1752 1289v-17h-16v8h8v8zM1680 1296v-8h-8v8zM1880 520v-8h-16v8h-16v8h-8v8h8v16h16v24h15l5-13l5-23l7-12h-8v-8zM1800 520v16h8v-16zM1824 552h16v-8h-16zM1840 552v16h8v-16zM1840 592v-8h8v-8h-24v-16h-16v8h8v24zM1808 600h-8v8h-8v16h8v-8h8zM1832 624v-8h-8v8zM1808 672v-8h-16v8zM1824 688v-8h-8v8zM1848 728v-8h-8v8zM1824 736v-8h-16v8zM1848 736h-16v24h16v-8h16v-8h-16zM1880 760v-8h-8v8zM1784 840h16v16h8v-8h8v8h8v-16h-16v-48h-8v-8h-16v16h-8v8h-8v24h16zM1848 800v-8h-8v8zM1864 816v16h8v-16zM1840 856h8v-16h-16v8h8zM1808 880v-16h-8v16zM1808 888v16h8v-8h8v-8zM1864 904v-8h-8v8zM1792 936v-8h-8v8zM1800 944v8h8v-16h-16v8zM1792 976h24v-8h-16v-8h-8zM1832 1016h8v-16h8v-8h-24v8h-8v16h8v8h8zM1768 1032v24h8v16h8v-24h8v-24h8v-8h-16v-8h-8v16h8v8zM1832 1048v32h8v-8h24v8h-8v8h24v8h16v-8h8v-8h8v-8h8v-24h-8v-8h-8v-8h-16v8h-8v-8h-8v-8h-16v-8h-16v8h-8v8h8v16zM1816 1032v-8h-8v8zM1816 1064v-8h-8v8zM1808 1072v-8h-8v8zM1824 1072v-8h-8v8zM1848 1080h-8v8h8zM1832 1112h16v-16h-8v8h-8zM1816 1120v-24h-16v16h8v8zM1864 1176v-8h8v-8h8v-8h-8v-8h-8v16h-8v16zM1784 1144v16h24v-16zM1856 1160v-8h-8v8zM1832 1168v-8h-8v8zM1840 1176v-8h-8v8zM1784 1176v16h8v-16zM1960 624v-32h-16v-2l-16 7v3h-8v16h8v8zM1888 616v8h8v8h24v-16h-24v-8h-8v-6l-8-1v15zM1936 648h8v-16h-16v8h8zM1920 712h-8v-8h8v-16h-8v-16h-24v8h-8v32h8v8h32zM1960 776v-8h-16v8zM1912 784v-8h-8v8zM1888 800v-8h-8v8zM1944 808v-8h-8v8zM1960 824h8v-8h-16v16h-8v-16h-8v24h24zM1888 824v-8h-8v8zM1896 840v-8h-8v8zM1928 856v-8h-8v-8h-16v8h8v24h8v-16zM1904 872v-16h-8v-8h-8v8h-8v8h16v8zM1952 872v-8h-8v8zM1920 896v-8h-16v16h16v8h16v-8h-8v-8zM1944 904v16h16v-16zM1896 944v-8h-8v-8h-8v24h8v8h8v-8h8v-8zM1936 952v-8h-8v8zM1960 960v-16h-16v16zM1872 968v24h16v-24zM1936 1008h8v-16h-16v8h8zM1920 1008v-8h-8v8zM1952 1040v-8h-8v8zM1920 1088v-8h-8v8zM1928 1104v-8h-8v8zM1968 1144v-8h-8v-8h-8v-8h-8v-8h-8v16h8v16zM1920 1128v-8h-8v8zM1920 1128v16h-8v8h16v-24zM1888 1152v-8h-8v8zM1928 1152v8h16v-16h-8v8zM1952 1192v-8h-8v8zM1880 1216v40h8v8h8v-8h8v-8h-16v-16h16v-8h8v-8h8v-8h-8v-8h-8v16h-8v8h-8v-8zM1992 584v-8h-16v8zM2024 616v-32h-16v24h8v8zM1976 616v-8h-8v8zM2048 664v-8h-8v-8h8v-8h8v-8h-8v-8h-8v8h-32v8h-8v8h8v24h32v-8zM1984 664v-8h-8v8zM2024 704v16h8v-16zM2008 712v-8h-8v8zM2016 752v-16h-8v16zM2000 760v-16h-16v16zM2000 784v-8h-16v8zM1992 856v-8h-8v8zM1976 856v-8h-16v8zM2008 880v-8h8v-8h8v-8h-32v8h-8v8h16v8zM2024 912v24h8v16h-16v8h-8v24h16v-8h16v8h8v8h8v-16h8v-8h-8v-8h8v-16h-8v-24h-8v-8h-8v-24h8v-8h-16v16h-16v16zM2008 912v-8h-16v8zM1984 928v-8h-16v8zM1992 968v-8h-8v8zM1952 1000v8h8v8h8v-24h8v-8h8v-8h-24v8h-8v8h8v8zM2032 1056h8v-8h8v-24h-8v-8h8v-16h-8v8h-8v16h-8v16h8zM2000 1080v-16h-8v24h8v8h8v-8h8v-8zM2032 1104v-8h-8v8zM1976 1120v-8h-16v8zM2008 1144v-8h-16v8zM1976 1152v-8h-8v8zM2040 1168v-8h-8v8zM2008 1168v16h8v-16zM1952 1168v16h8v-16zM1984 1184v8h8v-8zM1984 1200v-8h-8v8zM2040 1240v-8h8v-24h-8v-8h-24v8h-8v16h8v8h8v8zM1960 1264v-8h-8v8zM2024 1424v-8h16v-16h8v-8h-8v-16h-8v-8h-32l4 29l7 19h5v8zM2024 1441l8 11v1v-13zM2104 488v-24h-16v8h-16v16h8v8h8v-8zM2064 512v-32h-16v8h-8v8h-1l1 8h8v8zM2080 576v-8h-8v8zM2144 592v-16h-16v8h-8v16h8v-8zM2088 672v-8h24v-8h-32v-16h-8v-16h-8v32h8v8h8v8zM2088 680h-8v8h8v8h8v-24h-8zM2128 704v-8h-16v8zM2064 704v16h8v-16zM2104 720h-16v16h8v16h8zM2056 808v-8h-16v8zM2112 840h8v8h16v-8h-8v-8h-16zM2072 896h8v8h16v-16h-24zM2048 904v8h16v-8h8v-8h-16v8zM2152 896h-8v-8h-24v8h-8v16h-8v16h24v8h16v-16h8zM2096 960v-8h-8v8zM2080 976v-8h-8v8zM2096 976v16h8v-16zM2072 1008h8v-16h-16v8h8zM2104 1016h-8v8h8v8h8v8h8v8h16v-16h-8v-16h-8v8h-8v-24h-16v8h8zM2064 1032v-8h-8v8zM2096 1056h8v-16h-24v-16h-8v8h-8v8h8v8h16v16h8zM2072 1096v-16h-8v16zM2099 1104l5-8h1l12-16h-21v8h-8v8h-8v8zM2048 1088v16h8v-16zM2052 1184l3-8h-7v8zM2088 1368h8v-32h-56v16h16v16h8v8h24zM2128 1456v-8h-8v8zM2064 1456h-16v8h8v8h8zM2120 1472v-8h-8v8zM2216 448v-8h-8v8zM2168 448v-8h-8v8zM2144 464v-24h-8v24zM2176 472v-8h-16v8zM2192 472v16h16v-16zM2144 496v-8h-16v8zM2208 504v-8h-8v8zM2200 552v-8h-8v8zM2184 576v-8h-8v8zM2192 576v8h16v-8h8v-8h-16v8zM2176 656v8h-8v8h-8v16h-8v16h-8v16h24v8h8v-8h16v8h8v-8h16v-16h-16v-8h16v-8h-8v-8h8v-8h8v8h16v-8h-8v-16h8v8h8v-8h8v8h8v-48h27l-5-25l19-8l15-9v-6h10l6-4v-4h7l17-11v-5h8l6-3l3-10v-3h-6l-88 43l-2 3l-1-1l14-9l63-32l4-4h-9v-8h-8v-24h-16v8h8v8h-16v16h8v16h-16v8h-48v8h-16v16h-16v8h8v16h8v8h-24v8h-24v8h-8v16h-16v8h16v8zM2144 632v-8h-16v8zM2208 728h-8v8h8zM2216 744v-8h-8v8zM2216 768v-8h-8v8zM2184 792h-8v-8h-8v8h-24v8h16v8h16v-8h8zM2224 800v-8h-8v8zM2208 824v-16h-16v16zM2152 824v-8h-16v8zM2248 840v-8h8l-2-8l-8-8l4-8h-10v-8h-8v16h-16v16h-8v8h8v8h24v-8zM2152 856v24h8v-24zM2176 864v16h24v-8h-16v-8zM2192 960v-16h16v-8h-24v16h-16v16h8v-8zM2216 944h-8v8h8zM2168 952v-8h-8v8zM2224 960v1l2-1zM2144 976v-8h-16v8zM2136 992v16h24v-8h-8v-8zM2168 1008h-8v8h-16v8h8v5l6-9l10-7zM2145 1408l-1-1v1zM2144 1456v48h8v16h8v-8h5l2-7l-1-17h-6v-8h-8v-24h8v-8l-8-24v8h-16v24zM2360 472h-8v16h8v24h-8v8h19l13-11v-13h16v-8h8v8l8-4v-31l-16-4l-9-9l3-16h-2v-8h-16v8h-16v8h-16v16h8v8h8zM2248 472v-8h-24v8zM2304 488v24h8v-8h8v-16zM2264 528h-16v8h8v8h8zM2248 688v16h8v8h8v-16h-8v-8zM2240 720v16h8v-8h8v-8zM2248 928v-8h-8v8z"/>
<path fill="#d6604d" transform="scale(0.25)" d="M296 120v8h8v-8zM288 176v-8h8v-8h8v-16h-16v8h-8v8h-8v8h8v8zM488 192h8v-8h-8zM248 248h-16v16h16zM600 272h8v-8h-8zM800 360h8v-8h-8zM616 624v32h16v-16h8v-16h-8v-24h-8v-8h-8v16h8v16zM264 632h8v-8h-8zM200 672v-24h-24v8h-8v8h8v8zM152 672h-8v16h8zM144 688h-8v8h-8v16h8v-8h8zM904 736v8h8v8h16v8h8v-16h8v-8h-8v-8h8v-24h-8v-8h-8v8h-8v16h-8v16zM152 720h-8v16h8zM200 736h8v-8h-8zM208 776h8v-8h-8zM928 800v-24h-8v24zM920 824h8v-8h-8zM240 824h-8v8h-8v8h16zM424 872h8v-8h-8zM248 944v21l16 19l4 8h4v-8h8v8h16v8h24v8h8v-16h-8v-8h8v-40h-8v-8h-8v8h-8v-8h-40v-8h-24v16zM544 1064h8v-8h8v-16h-32v32h16zM296 1048h8v-8h-8zM592 1136h8v-8h-8zM576 1136v8h16v-8zM1424 456v8h8v8h8v-8h8v8h8v-8h8v-32h-8v-8h-16v-8h-8v8h-8v8h-8v24zM1384 536v16h8v-16zM1448 552h8v-8h-8zM1328 552h8v-8h-8zM1336 560h8v-8h-8zM1424 616h8v-8h-8zM1328 656h-8v-8h-8v-8h-8v16h8v16h16zM1400 704h16v-8h-16zM1392 768h8v-8h-8zM1400 808v-16h8v-8h-8v-8h-8v-8h-8v8h-8v8h-8v24zM1440 904h8v-8h-8zM1320 968h8v8h8v-16h-16zM1240 992v24h24v-24zM1320 1032h8v-8h-8zM1224 1072h8v-8h-8zM1320 1088h8v-8h-8zM1408 1096h8v-8h-8zM1256 1160h8v16h16v-8h8v-16h-24v-8h-8v-8h-8v8h-8v8h16zM1320 1192h8v-16h-8zM1008 1208h8v-16h-8zM1400 1224h8v-8h-8zM1264 1256h8v-8h-8zM1376 1256h8v-8h-8zM1240 1312v-8h8v-8h-8v-8h-8v8h-8v8h8v8zM1328 1320v24h8v8h16v8h8v-8h16v-40h-8v-8h-8v8h-8v8h-8v-8h-8v8zM1208 1360v-16h-16v16zM1248 1456v8h16v-8zM1656 528h8v-8h8v-24h-8v-8h-8v8h-24v8h8v16h16zM1560 528h8v-8h-8zM1560 560h8v-8h-8zM1648 576h8v-8h-8zM1576 584h8v-8h-8zM1648 600h8v8h8v8h-8v16h-8v16h8v8h8v8h16v-16h16v-8h8v-23l-6 1l-10-10l-8-32h-8v16h-8v-8h-16zM1520 616h16v-8h-16zM1632 632v-16h-8v16zM1592 648h8v-8h-8zM1624 664h8v-8h-8zM1640 672h8v-8h-8zM1616 720h16v-8h-16zM1664 736h8v-8h-8zM1632 744v-16h-8v16zM1488 760h8v-8h-8zM1568 768h8v-8h-8zM1584 832v-8h8v-16h8v-8h-16v-8h-16v8h-8v16h8v8h8v8zM1616 808h16v-8h-16zM1544 832h8v-8h-8zM1664 856h8v-8h-8zM1480 880h8v-8h-8zM1472 936h8v-8h-8zM1584 960h8v-8h-8zM1584 984h8v-8h-8zM1608 1000v8h-16v16h32v-24zM1648 1024h16v-8h-16zM1512 1024h8v-8h-8zM1480 1040h8v8h24v-16h-32zM1576 1040v8h16v-8zM1600 1048h-8v24h8zM1640 1120h8v-8h-8zM1488 1160h16v-8h-16zM1496 1168v16h16v-16zM1608 1176v16h8v-16zM1488 1192h8v-8h-8zM1584 1304v-24h-32v16h8v8zM1504 1312h16v-8h-8v-8h-8zM1632 1312v-8h-16v8h-8v24h24v-16h8v-8zM1456 1320h8v-8h-8zM1752 528h8v-16h-8zM1800 528h8v-8h-8zM1808 568h8v-8h-8zM1768 576h16v-8h-16zM1792 584h8v-8h-8zM1792 624h8v-16h-8zM1800 672h8v-8h-8zM1744 696h8v-8h-8zM1768 744v-8h8v-24h-24v32zM1672 728h8v-16h-8zM1808 736h8v-8h-8zM1792 792v16h-16v16h8v8h16v-8h8v-16h-8v-24h-16v8zM1680 808h8v-8h-8zM1768 832h8v-8h-8zM1800 848h24v-8h-24zM1672 896h8v-8h-8zM1720 896h8v-8h-8zM1760 904h8v-8h-8zM1776 952h-8v-8h8v-8h-24v-8h-8v32h32zM1784 936h8v-8h-8zM1664 968h8v-8h-8zM1792 976h8v-8h-8zM1776 1016h8v-8h-8zM1760 1032h8v-8h-8zM1696 1056h8v-8h-8zM1800 1072h8v-8h-8zM1736 1080h8v-8h-8zM1696 1088h8v-8h-8zM1760 1112h16v-8h8v-16h-24v8h-8v8h8zM1688 1104h8v-8h-8zM1800 1112h16v-8h-16zM1792 1160h8v-8h8v-8h-16zM1688 1160h8v-8h-8zM1712 1264v16h8v-16zM1864 560h8v8h10l6-22v-18h-8v-8h-24v8h-8v16h8v8h8zM1824 552h8v-8h-8zM1824 592h16v-8h-16zM1944 608v16h8v-32h-13l-11 5v19h8v-8zM1880 616h8v8h8v-16h-8v-6l-8-1zM1824 624h8v-8h-8zM1904 616v16h16v-8h-8v-8zM1928 640h8v-8h-8zM1912 712v-24h-8v-8h-16v8h-8v8h8v16zM1840 728h8v-8h-8zM1848 752v-8h-16v16h8v-8zM1856 752h8v-8h-8zM1872 760h8v-8h-8zM1880 800h8v-8h-8zM1936 808h8v-8h-8zM1880 824h8v-8h-8zM1912 840v24h8v-24zM1880 864h24v-8h-24zM1920 904h8v-8h-8zM1904 904h8v-8h-8zM1872 976h8v-8h-8zM1880 984h8v-8h-8zM1840 992h-16v8h-8v16h16v-8h8zM1840 1016v16h24v-8h-16v-8zM1864 1064v16h8v8h24v-8h8v-8h8v-8h-8v-8h8v-8h-16v-8h-16v8h-8v-16h-8v8h-16v16h8v8zM1832 1064h8v-8h-8zM1808 1056v8h8v-8zM1824 1072v-8h-8v8zM1840 1112h8v-8h-8zM1864 1152h8v-8h-8zM1928 1160h16v-8h-16zM1888 1232h16v-8h8v-16h-8v8h-8v8h-16v16h8zM1880 1248v8h16v-8zM2064 504v-16h-24v16zM2016 600v-16h-8v16zM2024 608v-8h-8v8zM2040 664v-32h-16v8h-16v16h8v8zM2000 712h8v-8h-8zM1992 744v16h8v-16zM2048 808h8v-8h-8zM1960 824h8v-8h-8zM1944 840h16v-8h-16zM1984 856h8v-8h-8zM1968 856h8v-8h-8zM2000 856v8h8v-8zM2016 872v-8h-8v8zM2040 904v-16h-8v8h-16v16h16v-8zM1944 912h16v-8h-16zM2032 912v8h8v-8zM2040 920v16h16v-16zM2008 968v8h16v-8h8v8h16v8h8v-16h-8v-8h16v-8h-16v-8h-16v8h-8v8h-8v8zM1944 960h8v-8h-8zM1960 992h8v-8h-8zM1960 1008h8v-8h-8zM2032 1024v16h16v-8h-8v-8zM1992 1072h8v-8h-8zM2008 1088h8v-8h-8zM1960 1120h8v-8h-8zM1944 1136h16v-8h-8v-8h-8zM2032 1168h8v-8h-8zM1952 1184h8v-8h-8zM1984 1192h8v-8h-8zM2048 1216h-8v-8h-16v8h-8v16h24v-8h8zM1952 1264h8v-8h-8zM2048 1344h8v-8h-8zM2008 1407l3 9h5v-8h16v-24h-8v-8h-16v8h-6l1 8h5zM2168 472h8v-8h-8zM2104 488v-24h-16v16h-8v8zM2136 496h8v-8h-8zM2208 584v-16h-8v8h-8v8zM2136 584h8v-8h-8zM2176 648h24v-8h-24zM2096 664h8v-8h-8zM2160 688v32h16v-8h8v-8h8v-8h8v-16h8v-8h8v-8h8v8h8v-16h16v-8h8v-8h8v-8h-8v-16h-8v8h-8v-8h-16v8h-8v24h-8v8h-8v8h-24v8h-8v16zM2088 688h8v-8h-8zM2192 712h8v-8h-8zM2200 720h8v-8h-8zM2088 736h8v-16h-8zM2096 744h8v-8h-8zM2176 808v-16h-8v16zM2144 800h8v-8h-8zM2192 824h8v-16h-8zM2128 848h8v-8h-8zM2152 872h8v-8h-8zM2136 928v-8h8v-24h-8v-8h-8v8h-8v16h-16v16zM2056 912h8v-8h-8zM2184 944h24v-8h-24zM2168 960h24v-8h-24zM2128 976h8v-8h-8zM2096 984h8v-8h-8zM2136 992v16h16v-8h-8v-8zM2104 1032h8v-16h-8zM2120 1040h16v-8h-16zM2072 1376v-8h16v-8h8v-8h-8v-16h-24v8h-8v16h8v16zM2160 1448l-2-8h-6v-8h-8v8h-8v16h24zM2144 1504h16v-8h-16zM2160 1504v8h5l2-8zM2208 448h8v-8h-8zM2360 464v8h16v8h24v-8h8v-12l-8-3l-9-9l1-8h-16v8h-8v8h-16v8zM2344 448h8v-8h-8zM2232 472h8v-8h-8zM2360 488h8v-8h-8zM2312 512v-24h-8v24zM2336 504h8v-8h-8zM2376 516v-12h-16v8h8v8h3zM2328 520h8v-8h-8zM2336 528h8v-8h-8zM2352 544h8v-8h-5l-3 2zM2320 560h-16v16h13l3-2zM2256 600v16h8v-8h16v8h11l-5-25l10-4v-23l-14 7l-1 3l-1-1l16-11v-2h-32v8h-8v8h-8v24zM2248 704h8v-8h-8zM2208 712h8v-8h-8zM2240 728h8v-8h-8zM2248 840v-22l-2-2h-30v24z"/>
<path fill="#b2182b" transform="scale(0.25)" d="M304 120h-8v8h8zM280 160v16h8v-16zM248 248h-8v8h8zM632 640v-16h-8v8h-8v16h8v-8zM192 672v-8h8v-8h-16v8h-8v8zM1312 656v8h16v-8zM128 696v8h16v-8zM920 720v32h16v-16h-8v-8h16v-16h-8v-8h-8v16zM152 720h-8v16h8zM920 784v8h8v-8zM264 976v8h8v-8h8v8h8v8h8v-8h8v-24h-8v-8h-24v-8h-16v31zM1328 960v8h8v-8zM1240 1000v8h16v-8zM1320 1024v8h8v-8zM552 1056h8v-8h-8v-8h-16v16h-8v8h24zM592 1136h-8v8h8zM1272 1152v8h-8v8h24v-16zM1016 1200h-8v8h8zM1232 1296v16h8v-16zM1424 448v8h16v8h8v-8h8v-24h-8v-8h-8v8h-16v8h8v8zM1648 520h8v-8h8v-8h-8v-8h-8v8h-8v8h8zM1336 552v8h8v-8zM1656 584h-8v8h8zM1648 640v8h8v-8zM1672 648h-8v16h8zM1632 656h-8v8h8zM1624 712v8h8v-8zM1376 792h8v8h16v-24h-8v-8h-8v8h-8zM1584 824v-8h8v-8h-8v-16h-8v8h-8v24zM1600 1008v8h8v8h8v-16zM1656 1016h-8v8h8zM1512 1016v8h8v-8zM1496 1032v8h8v-8zM1504 1176h-8v8h8zM1584 1288h-16v-8h-8v16h16v8h8zM1616 1304v8h-8v16h16v8h8v-24h-8v-8zM1344 1336v8h16v-8h8v-24h-16v8h-8v8h-8v8zM1885 560l3-14v-10h-8v-8h-24v16h8v16zM1672 608v8h-8v16h-8v8h16v8h8v-8h8v-8h8v-16l-8-8l-4-16h-20v16zM1768 736v-24h-8v8h-8v16zM1672 712v8h8v-8zM1792 784v8h8v-8zM1792 824h8v-16h-24v16h8v8h8zM1816 840h-16v8h16zM1752 936v16h16v-16zM1880 968h-8v8h8zM1824 992v16h16v-8h-8v-8zM1824 1008h-8v8h8zM1840 1016v8h8v-8zM1864 1064h8v16h24v-8h8v-16h-8v-8h-16v8h-8v-16h-16v16h8zM1768 1112h8v-24h-8v8h-8v8h8zM1688 1096v8h8v-8zM1800 1144h-8v8h8zM1880 1224v8h8v-8zM2096 472v8h8v-8zM2088 480h-8v8h8zM1936 600v8h16v-8zM2032 648h8v-8h-16v8h-8v8h16zM1912 704v-8h-8v-8h-24v8h8v8h8v8h8v-8zM2088 728v8h8v-8zM2056 800h-8v8h8zM1888 856v8h8v-8zM1904 896v8h8v-8zM2040 896h-8v8h8zM1944 904v8h16v-8zM2136 920v-24h-8v8h-8v8h-8v8zM2112 920h-8v8h8zM2048 928v8h8v-8zM2048 968v-24h-8v8h-8v16zM2008 968v8h8v-8zM1968 1000h-8v8h8zM2040 1032v8h8v-8zM2120 1032v8h8v-8zM1936 1152h-8v8h8zM2032 1160v8h8v-8zM2040 1224v-8h-8v-8h-8v24h8v-8zM2064 1344v16h16v-16zM2024 1392h8v-8h-8v-8h-16v24h16zM2368 448v24h16v-8h16v-7l-9-9l1-8h-8v8zM2312 504h-8v8h8zM2336 520v8h8v-8zM2312 560v8h8v-8zM2256 592v16h8v-8h8v8h16v8h3l-5-25h2v-23l-6 3l-1 3l-1-1l7-5h-23v8h-8v8h-8v8zM2208 568h-8v16h8zM2136 576v8h8v-8zM2232 656v-8h16v-24h-24v8h-8v16h8v8zM2176 680h8v8h16v-16h-24zM2168 696v16h16v-16zM2248 720h-8v8h8zM2168 792v8h8v-8zM2232 840v-8h16v-14l-2-2h-22v8h-8v16zM2144 1000v8h8v-8zM2152 1440v-8h-8v16h8v8h8v-8l-2-8z"/>

</g></g>
<g fill="#fff"><polygon points="550.5,167.0 552.0,167.0 553.5,175.0 555.0,183.0 557.0,190.0 559.0,197.0 561.0,202.5 559.5,205.0 556.0,199.0 554.0,192.0 552.3,185.0 551.3,177.0"/><polygon points="559.5,165.0 562.0,166.0 566.0,171.0 567.5,176.5 565.0,177.0 561.0,171.0"/><polygon points="67.0,25.0 70.0,24.0 71.5,27.0 70.5,32.0 68.5,33.0 67.5,29.0"/><polygon points="563.5,209.5 566.0,211.0 569.5,218.0 570.8,225.5 569.0,231.0 567.2,229.0 567.8,222.0 565.5,216.0 562.5,213.0"/><polygon points="31.3,169.6 33.0,169.5 34.2,173.0 34.0,179.3 32.5,179.0 32.0,174.0"/><polyline points="565.5,212 569,217.5 571.3,224 570.5,229 567,234" fill="none" stroke="#a9cfe3" stroke-width="0.8"/></g>
<rect x="8.5" y="6.5" width="631" height="398" fill="none" stroke="#666" stroke-width="1"/>
<text x="28.5" y="24.2" style="font-size:10px;fill:#111">N</text>
<polygon points="31.8,26.7 36.1,45.5 32,41.4" fill="#000"/>
<polygon points="31.8,26.7 27.8,45.5 32,41.4" fill="#fff" stroke="#000" stroke-width="0.7"/>
<rect x="415.6" y="22.2" width="197.7" height="3.9" rx="0.8" fill="#fff" stroke="#333" stroke-width="0.9"/>
<rect x="481.3" y="22.2" width="66" height="3.9" fill="#111"/>
<text x="415.8" y="32.6" class="sb" text-anchor="middle">0</text>
<text x="481.3" y="32.6" class="sb" text-anchor="middle">500</text>
<text x="547.3" y="32.6" class="sb" text-anchor="middle">1000</text>
<text x="606" y="32.6" class="sb">1500 km</text>
<text x="17.9" y="300" class="tt">LAN (nW/cm2/sr)</text>
<rect x="19.1" y="306.70" width="10.9" height="10.9" fill="#2166ac"/><text x="32.9" y="315.50" class="lg">0 to 0.05</text><rect x="19.1" y="317.53" width="10.9" height="10.9" fill="#4393c3"/><text x="32.9" y="326.33" class="lg">0.5 to 0.1</text><rect x="19.1" y="328.36" width="10.9" height="10.9" fill="#92c5de"/><text x="32.9" y="337.16" class="lg">0.1 to 0.5</text><rect x="19.1" y="339.19" width="10.9" height="10.9" fill="#d1e5f0"/><text x="32.9" y="347.99" class="lg">0.5 to 1.0</text><rect x="19.1" y="350.02" width="10.9" height="10.9" fill="#fddbc7"/><text x="32.9" y="358.82" class="lg">1.0 to 5.0</text><rect x="19.1" y="360.85" width="10.9" height="10.9" fill="#f4a582"/><text x="32.9" y="369.65" class="lg">5.0 to 10.0</text><rect x="19.1" y="371.68" width="10.9" height="10.9" fill="#d6604d"/><text x="32.9" y="380.48" class="lg">10.0 to 20.0</text><rect x="19.1" y="382.51" width="10.9" height="10.9" fill="#b2182b"/><text x="32.9" y="391.31" class="lg">20.0 to 749.3</text>
</svg>
</body></html>
